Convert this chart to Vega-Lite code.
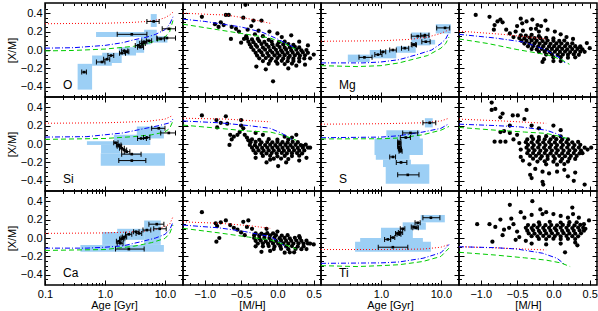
{
"$schema": "https://vega.github.io/schema/vega-lite/v6.json",
"padding": {"left": 5, "top": 1, "right": 2, "bottom": 0},
"spacing": 0,
"columns": 4,
"bounds": "flush",
"config": {
  "view": {"stroke": "black", "strokeWidth": 1.5},
  "axis": {"labelFont": "Liberation Sans", "titleFont": "Liberation Sans", "labelFontSize": 11, "titleFontSize": 11, "titleFontWeight": "normal", "labelColor": "black", "titleColor": "black", "tickColor": "black", "tickWidth": 1, "tickSize": -5, "labelPadding": 8, "domain": false, "grid": false, "labelFlush": false, "labelOverlap": false},
  "axisX": {"titlePadding": 0},
  "axisY": {"titlePadding": 3}
},
"datasets": {
"age": [
{"e":"O","k":"b","a1":0.71,"a2":5.0,"y1":0.14,"y2":0.195},
{"e":"O","k":"b","a1":5.8,"a2":7.3,"y1":0.25,"y2":0.39},
{"e":"O","k":"b","a1":0.35,"a2":0.61,"y1":-0.43,"y2":-0.15},
{"e":"O","k":"b","a1":0.61,"a2":1.3,"y1":-0.17,"y2":-0.06},
{"e":"O","k":"b","a1":0.9,"a2":1.9,"y1":-0.14,"y2":-0.03},
{"e":"O","k":"b","a1":1.7,"a2":3.3,"y1":-0.06,"y2":0.03},
{"e":"O","k":"b","a1":3.3,"a2":4.5,"y1":-0.03,"y2":0.11},
{"e":"O","k":"b","a1":4.0,"a2":5.8,"y1":0.06,"y2":0.16},
{"e":"O","k":"b","a1":4.5,"a2":7.3,"y1":0.09,"y2":0.22},
{"e":"O","k":"b","a1":5.8,"a2":11,"y1":0.08,"y2":0.15},
{"e":"Mg","k":"b","a1":0.28,"a2":0.65,"y1":-0.13,"y2":-0.05},
{"e":"Mg","k":"b","a1":0.65,"a2":1.8,"y1":-0.09,"y2":0.0},
{"e":"Mg","k":"b","a1":1.8,"a2":3.8,"y1":-0.03,"y2":0.04},
{"e":"Mg","k":"b","a1":3.2,"a2":6.6,"y1":0.05,"y2":0.19},
{"e":"Mg","k":"b","a1":4.5,"a2":8.0,"y1":0.06,"y2":0.11},
{"e":"Mg","k":"b","a1":8.2,"a2":14.6,"y1":0.18,"y2":0.28},
{"e":"Si","k":"b","a1":0.5,"a2":1.41,"y1":-0.01,"y2":0.03},
{"e":"Si","k":"b","a1":0.86,"a2":1.8,"y1":-0.1,"y2":-0.01},
{"e":"Si","k":"b","a1":0.85,"a2":10,"y1":-0.235,"y2":-0.1},
{"e":"Si","k":"b","a1":1.41,"a2":5.7,"y1":-0.01,"y2":0.1},
{"e":"Si","k":"b","a1":3.4,"a2":9.6,"y1":0.06,"y2":0.19},
{"e":"S","k":"b","a1":5.4,"a2":7.3,"y1":0.18,"y2":0.28},
{"e":"S","k":"b","a1":1.23,"a2":4.43,"y1":0.043,"y2":0.15},
{"e":"S","k":"b","a1":0.78,"a2":5.0,"y1":-0.12,"y2":0.06},
{"e":"S","k":"b","a1":0.82,"a2":3.0,"y1":-0.17,"y2":-0.12},
{"e":"S","k":"b","a1":1.08,"a2":3.16,"y1":-0.25,"y2":-0.17},
{"e":"S","k":"b","a1":1.2,"a2":6.4,"y1":-0.43,"y2":-0.22},
{"e":"Ca","k":"b","a1":0.39,"a2":9.6,"y1":-0.15,"y2":-0.075},
{"e":"Ca","k":"b","a1":0.9,"a2":2.2,"y1":-0.075,"y2":0.065},
{"e":"Ca","k":"b","a1":1.6,"a2":4.5,"y1":-0.02,"y2":0.1},
{"e":"Ca","k":"b","a1":4.5,"a2":8.5,"y1":-0.075,"y2":0.19},
{"e":"Ti","k":"b","a1":0.37,"a2":6.8,"y1":-0.15,"y2":-0.04},
{"e":"Ti","k":"b","a1":0.45,"a2":5.0,"y1":-0.08,"y2":0.0},
{"e":"Ti","k":"b","a1":1.0,"a2":3.4,"y1":0.0,"y2":0.11},
{"e":"Ti","k":"b","a1":2.3,"a2":5.6,"y1":0.09,"y2":0.17},
{"e":"Ti","k":"b","a1":4.6,"a2":11.6,"y1":0.17,"y2":0.25},
{"e":"O","k":"p","a":0.45,"lo":0.41,"hi":0.49,"v":-0.24},
{"e":"O","k":"p","a":0.89,"lo":0.72,"hi":1.0,"v":-0.13},
{"e":"O","k":"p","a":1.08,"lo":0.95,"hi":1.2,"v":-0.1},
{"e":"O","k":"p","a":1.26,"lo":1.12,"hi":1.4,"v":-0.06},
{"e":"O","k":"p","a":1.9,"lo":1.75,"hi":2.2,"v":-0.035},
{"e":"O","k":"p","a":2.1,"lo":1.9,"hi":2.4,"v":-0.01},
{"e":"O","k":"p","a":2.3,"lo":2.1,"hi":2.5,"v":-0.02},
{"e":"O","k":"p","a":3.6,"lo":3.2,"hi":4.2,"v":0.05},
{"e":"O","k":"p","a":3.9,"lo":3.5,"hi":4.4,"v":0.03},
{"e":"O","k":"p","a":4.2,"lo":3.8,"hi":4.7,"v":0.07},
{"e":"O","k":"p","a":4.5,"lo":4.1,"hi":5.0,"v":0.09},
{"e":"O","k":"p","a":5.4,"lo":4.9,"hi":6.0,"v":0.1},
{"e":"O","k":"p","a":2.8,"lo":1.6,"hi":5.0,"v":0.17},
{"e":"O","k":"p","a":6.5,"lo":5.0,"hi":8.0,"v":0.31},
{"e":"O","k":"p","a":8.5,"lo":7.5,"hi":9.8,"v":0.12},
{"e":"O","k":"p","a":10.8,"lo":7.3,"hi":15,"v":0.13},
{"e":"O","k":"p","a":11.6,"lo":9,"hi":15,"v":0.23},
{"e":"Mg","k":"p","a":0.53,"lo":0.43,"hi":0.71,"v":-0.08},
{"e":"Mg","k":"p","a":0.89,"lo":0.79,"hi":1.04,"v":-0.05},
{"e":"Mg","k":"p","a":1.08,"lo":0.98,"hi":1.2,"v":-0.02},
{"e":"Mg","k":"p","a":1.58,"lo":1.4,"hi":1.8,"v":0.0},
{"e":"Mg","k":"p","a":2.5,"lo":2.2,"hi":2.9,"v":0.02},
{"e":"Mg","k":"p","a":3.5,"lo":3.2,"hi":3.8,"v":0.06},
{"e":"Mg","k":"p","a":3.6,"lo":3.3,"hi":3.9,"v":0.055},
{"e":"Mg","k":"p","a":4.1,"lo":3.2,"hi":5.4,"v":0.15},
{"e":"Mg","k":"p","a":5.4,"lo":4.6,"hi":6.3,"v":0.16},
{"e":"Mg","k":"p","a":5.6,"lo":4.8,"hi":6.6,"v":0.09},
{"e":"Mg","k":"p","a":11.7,"lo":8.5,"hi":14,"v":0.24},
{"e":"Si","k":"p","a":2.8,"lo":1.7,"hi":4.8,"v":-0.18},
{"e":"Si","k":"p","a":2.8,"lo":1.9,"hi":4.0,"v":-0.11},
{"e":"Si","k":"p","a":2.3,"lo":2.1,"hi":2.6,"v":-0.083},
{"e":"Si","k":"p","a":2.1,"lo":1.9,"hi":2.3,"v":-0.065},
{"e":"Si","k":"p","a":1.9,"lo":1.75,"hi":2.1,"v":-0.047},
{"e":"Si","k":"p","a":1.75,"lo":1.6,"hi":1.9,"v":-0.025},
{"e":"Si","k":"p","a":1.7,"lo":1.55,"hi":1.85,"v":-0.01},
{"e":"Si","k":"p","a":1.5,"lo":1.4,"hi":1.65,"v":0.014},
{"e":"Si","k":"p","a":4.0,"lo":3.5,"hi":4.9,"v":0.06},
{"e":"Si","k":"p","a":5.0,"lo":4.4,"hi":5.6,"v":0.07},
{"e":"Si","k":"p","a":7.9,"lo":6.0,"hi":10,"v":0.17},
{"e":"Si","k":"p","a":11.6,"lo":8.5,"hi":15,"v":0.12},
{"e":"S","k":"p","a":6.5,"lo":5.0,"hi":8.2,"v":0.23},
{"e":"S","k":"p","a":3.1,"lo":2.3,"hi":4.1,"v":0.12},
{"e":"S","k":"p","a":2.6,"lo":2.1,"hi":3.1,"v":0.07},
{"e":"S","k":"p","a":2.0,"lo":1.9,"hi":2.15,"v":0.025},
{"e":"S","k":"p","a":2.0,"lo":1.9,"hi":2.15,"v":0.0},
{"e":"S","k":"p","a":2.0,"lo":1.9,"hi":2.15,"v":-0.03},
{"e":"S","k":"p","a":2.05,"lo":1.95,"hi":2.2,"v":-0.055},
{"e":"S","k":"p","a":2.1,"lo":2.0,"hi":2.25,"v":-0.08},
{"e":"S","k":"p","a":1.58,"lo":1.4,"hi":1.75,"v":-0.14},
{"e":"S","k":"p","a":2.16,"lo":1.8,"hi":2.7,"v":-0.2},
{"e":"S","k":"p","a":2.8,"lo":1.9,"hi":4.3,"v":-0.335},
{"e":"Ca","k":"p","a":2.5,"lo":1.5,"hi":4.5,"v":-0.12},
{"e":"Ca","k":"p","a":1.8,"lo":1.6,"hi":2.0,"v":-0.057},
{"e":"Ca","k":"p","a":1.7,"lo":1.55,"hi":1.85,"v":-0.035},
{"e":"Ca","k":"p","a":1.9,"lo":1.75,"hi":2.05,"v":-0.01},
{"e":"Ca","k":"p","a":2.0,"lo":1.85,"hi":2.15,"v":0.0},
{"e":"Ca","k":"p","a":2.1,"lo":1.95,"hi":2.3,"v":0.01},
{"e":"Ca","k":"p","a":2.5,"lo":2.2,"hi":2.8,"v":0.04},
{"e":"Ca","k":"p","a":3.3,"lo":3.0,"hi":3.7,"v":0.068},
{"e":"Ca","k":"p","a":3.7,"lo":3.3,"hi":4.1,"v":0.05},
{"e":"Ca","k":"p","a":5.0,"lo":4.3,"hi":5.8,"v":0.086},
{"e":"Ca","k":"p","a":7.3,"lo":5.4,"hi":9.6,"v":0.15},
{"e":"Ca","k":"p","a":8.2,"lo":6.5,"hi":10.5,"v":0.1},
{"e":"Ti","k":"p","a":1.58,"lo":0.9,"hi":2.8,"v":-0.1},
{"e":"Ti","k":"p","a":1.3,"lo":1.15,"hi":1.45,"v":-0.015},
{"e":"Ti","k":"p","a":1.58,"lo":1.45,"hi":1.7,"v":0.005},
{"e":"Ti","k":"p","a":1.9,"lo":1.75,"hi":2.05,"v":0.05},
{"e":"Ti","k":"p","a":2.0,"lo":1.85,"hi":2.15,"v":0.04},
{"e":"Ti","k":"p","a":2.1,"lo":1.95,"hi":2.3,"v":0.06},
{"e":"Ti","k":"p","a":2.3,"lo":2.1,"hi":2.5,"v":0.1},
{"e":"Ti","k":"p","a":3.6,"lo":3.2,"hi":4.0,"v":0.12},
{"e":"Ti","k":"p","a":3.8,"lo":3.4,"hi":4.2,"v":0.11},
{"e":"Ti","k":"p","a":4.1,"lo":3.7,"hi":4.5,"v":0.165},
{"e":"Ti","k":"p","a":6.8,"lo":5.0,"hi":9.6,"v":0.22},
{"e":"O","k":"m","mod":"r","a":0.1,"v":0.285},{"e":"O","k":"m","mod":"r","a":0.3,"v":0.288},{"e":"O","k":"m","mod":"r","a":1,"v":0.29},{"e":"O","k":"m","mod":"r","a":3,"v":0.3},{"e":"O","k":"m","mod":"r","a":5,"v":0.31},{"e":"O","k":"m","mod":"r","a":8,"v":0.33},{"e":"O","k":"m","mod":"r","a":10,"v":0.35},{"e":"O","k":"m","mod":"r","a":12,"v":0.38},{"e":"O","k":"m","mod":"r","a":13.6,"v":0.41},
{"e":"O","k":"m","mod":"b","a":0.1,"v":0.02},{"e":"O","k":"m","mod":"b","a":0.3,"v":0.025},{"e":"O","k":"m","mod":"b","a":1,"v":0.05},{"e":"O","k":"m","mod":"b","a":2,"v":0.08},{"e":"O","k":"m","mod":"b","a":3,"v":0.11},{"e":"O","k":"m","mod":"b","a":5,"v":0.14},{"e":"O","k":"m","mod":"b","a":7,"v":0.17},{"e":"O","k":"m","mod":"b","a":10,"v":0.22},{"e":"O","k":"m","mod":"b","a":12,"v":0.28},{"e":"O","k":"m","mod":"b","a":13.6,"v":0.36},
{"e":"O","k":"m","mod":"g","a":0.1,"v":-0.01},{"e":"O","k":"m","mod":"g","a":0.3,"v":-0.005},{"e":"O","k":"m","mod":"g","a":1,"v":0.01},{"e":"O","k":"m","mod":"g","a":3,"v":0.04},{"e":"O","k":"m","mod":"g","a":5,"v":0.07},{"e":"O","k":"m","mod":"g","a":8,"v":0.11},{"e":"O","k":"m","mod":"g","a":10,"v":0.14},{"e":"O","k":"m","mod":"g","a":12,"v":0.2},{"e":"O","k":"m","mod":"g","a":13.6,"v":0.32},
{"e":"Mg","k":"m","mod":"r","a":0.1,"v":0.095},{"e":"Mg","k":"m","mod":"r","a":1,"v":0.1},{"e":"Mg","k":"m","mod":"r","a":3,"v":0.115},{"e":"Mg","k":"m","mod":"r","a":6,"v":0.14},{"e":"Mg","k":"m","mod":"r","a":10,"v":0.18},{"e":"Mg","k":"m","mod":"r","a":13.6,"v":0.22},
{"e":"Mg","k":"m","mod":"b","a":0.1,"v":-0.14},{"e":"Mg","k":"m","mod":"b","a":0.5,"v":-0.14},{"e":"Mg","k":"m","mod":"b","a":1,"v":-0.13},{"e":"Mg","k":"m","mod":"b","a":2,"v":-0.105},{"e":"Mg","k":"m","mod":"b","a":4,"v":-0.05},{"e":"Mg","k":"m","mod":"b","a":7,"v":0.0},{"e":"Mg","k":"m","mod":"b","a":10,"v":0.07},{"e":"Mg","k":"m","mod":"b","a":12,"v":0.12},{"e":"Mg","k":"m","mod":"b","a":13.6,"v":0.19},
{"e":"Mg","k":"m","mod":"g","a":0.1,"v":-0.17},{"e":"Mg","k":"m","mod":"g","a":0.4,"v":-0.18},{"e":"Mg","k":"m","mod":"g","a":1,"v":-0.17},{"e":"Mg","k":"m","mod":"g","a":2,"v":-0.14},{"e":"Mg","k":"m","mod":"g","a":4,"v":-0.09},{"e":"Mg","k":"m","mod":"g","a":6,"v":-0.06},{"e":"Mg","k":"m","mod":"g","a":10,"v":0.02},{"e":"Mg","k":"m","mod":"g","a":12,"v":0.07},{"e":"Mg","k":"m","mod":"g","a":13.6,"v":0.14},
{"e":"Si","k":"m","mod":"r","a":0.1,"v":0.225},{"e":"Si","k":"m","mod":"r","a":1,"v":0.23},{"e":"Si","k":"m","mod":"r","a":5,"v":0.245},{"e":"Si","k":"m","mod":"r","a":10,"v":0.27},{"e":"Si","k":"m","mod":"r","a":13.6,"v":0.31},
{"e":"Si","k":"m","mod":"b","a":0.1,"v":0.075},{"e":"Si","k":"m","mod":"b","a":0.5,"v":0.08},{"e":"Si","k":"m","mod":"b","a":1,"v":0.1},{"e":"Si","k":"m","mod":"b","a":2,"v":0.12},{"e":"Si","k":"m","mod":"b","a":4,"v":0.16},{"e":"Si","k":"m","mod":"b","a":8,"v":0.2},{"e":"Si","k":"m","mod":"b","a":12,"v":0.23},{"e":"Si","k":"m","mod":"b","a":13.6,"v":0.27},
{"e":"Si","k":"m","mod":"g","a":0.1,"v":0.05},{"e":"Si","k":"m","mod":"g","a":1,"v":0.06},{"e":"Si","k":"m","mod":"g","a":3,"v":0.08},{"e":"Si","k":"m","mod":"g","a":6,"v":0.1},{"e":"Si","k":"m","mod":"g","a":10,"v":0.13},{"e":"Si","k":"m","mod":"g","a":12,"v":0.17},{"e":"Si","k":"m","mod":"g","a":13.6,"v":0.25},
{"e":"S","k":"m","mod":"r","a":0.1,"v":0.215},{"e":"S","k":"m","mod":"r","a":1,"v":0.22},{"e":"S","k":"m","mod":"r","a":5,"v":0.23},{"e":"S","k":"m","mod":"r","a":10,"v":0.25},{"e":"S","k":"m","mod":"r","a":13.6,"v":0.28},
{"e":"S","k":"m","mod":"b","a":0.1,"v":0.068},{"e":"S","k":"m","mod":"b","a":1,"v":0.075},{"e":"S","k":"m","mod":"b","a":2,"v":0.09},{"e":"S","k":"m","mod":"b","a":5,"v":0.13},{"e":"S","k":"m","mod":"b","a":10,"v":0.17},{"e":"S","k":"m","mod":"b","a":13.6,"v":0.22},
{"e":"S","k":"m","mod":"g","a":0.1,"v":0.055},{"e":"S","k":"m","mod":"g","a":1,"v":0.057},{"e":"S","k":"m","mod":"g","a":2,"v":0.065},{"e":"S","k":"m","mod":"g","a":5,"v":0.1},{"e":"S","k":"m","mod":"g","a":10,"v":0.15},{"e":"S","k":"m","mod":"g","a":13.6,"v":0.19},
{"e":"Ca","k":"m","mod":"r","a":0.1,"v":0.05},{"e":"Ca","k":"m","mod":"r","a":1,"v":0.055},{"e":"Ca","k":"m","mod":"r","a":4,"v":0.07},{"e":"Ca","k":"m","mod":"r","a":8,"v":0.1},{"e":"Ca","k":"m","mod":"r","a":12,"v":0.15},{"e":"Ca","k":"m","mod":"r","a":13.6,"v":0.23},
{"e":"Ca","k":"m","mod":"b","a":0.1,"v":-0.11},{"e":"Ca","k":"m","mod":"b","a":0.5,"v":-0.11},{"e":"Ca","k":"m","mod":"b","a":1,"v":-0.1},{"e":"Ca","k":"m","mod":"b","a":2,"v":-0.085},{"e":"Ca","k":"m","mod":"b","a":4,"v":-0.04},{"e":"Ca","k":"m","mod":"b","a":7,"v":0.0},{"e":"Ca","k":"m","mod":"b","a":10,"v":0.04},{"e":"Ca","k":"m","mod":"b","a":12,"v":0.09},{"e":"Ca","k":"m","mod":"b","a":13.6,"v":0.17},
{"e":"Ca","k":"m","mod":"g","a":0.1,"v":-0.135},{"e":"Ca","k":"m","mod":"g","a":1,"v":-0.125},{"e":"Ca","k":"m","mod":"g","a":3,"v":-0.09},{"e":"Ca","k":"m","mod":"g","a":6,"v":-0.05},{"e":"Ca","k":"m","mod":"g","a":10,"v":-0.005},{"e":"Ca","k":"m","mod":"g","a":12,"v":0.05},{"e":"Ca","k":"m","mod":"g","a":13.6,"v":0.14},
{"e":"Ti","k":"m","mod":"r","a":0.1,"v":-0.125},{"e":"Ti","k":"m","mod":"r","a":1,"v":-0.125},{"e":"Ti","k":"m","mod":"r","a":5,"v":-0.12},{"e":"Ti","k":"m","mod":"r","a":10,"v":-0.1},{"e":"Ti","k":"m","mod":"r","a":13.6,"v":-0.07},
{"e":"Ti","k":"m","mod":"b","a":0.1,"v":-0.275},{"e":"Ti","k":"m","mod":"b","a":1,"v":-0.27},{"e":"Ti","k":"m","mod":"b","a":2,"v":-0.26},{"e":"Ti","k":"m","mod":"b","a":5,"v":-0.22},{"e":"Ti","k":"m","mod":"b","a":10,"v":-0.16},{"e":"Ti","k":"m","mod":"b","a":13.6,"v":-0.07},
{"e":"Ti","k":"m","mod":"g","a":0.1,"v":-0.3},{"e":"Ti","k":"m","mod":"g","a":0.4,"v":-0.31},{"e":"Ti","k":"m","mod":"g","a":1,"v":-0.3},{"e":"Ti","k":"m","mod":"g","a":2,"v":-0.29},{"e":"Ti","k":"m","mod":"g","a":5,"v":-0.255},{"e":"Ti","k":"m","mod":"g","a":10,"v":-0.2},{"e":"Ti","k":"m","mod":"g","a":13.6,"v":-0.11}
],
"mh": [
{"e":"O","k":"m","mod":"r","m":-1.3,"v":0.4},{"e":"O","k":"m","mod":"r","m":-0.9,"v":0.385},{"e":"O","k":"m","mod":"r","m":-0.7,"v":0.38},{"e":"O","k":"m","mod":"r","m":-0.4,"v":0.34},{"e":"O","k":"m","mod":"r","m":-0.1,"v":0.29},
{"e":"O","k":"m","mod":"b","m":-1.3,"v":0.335},{"e":"O","k":"m","mod":"b","m":-1.0,"v":0.31},{"e":"O","k":"m","mod":"b","m":-0.5,"v":0.25},{"e":"O","k":"m","mod":"b","m":-0.2,"v":0.19},{"e":"O","k":"m","mod":"b","m":0.0,"v":0.12},{"e":"O","k":"m","mod":"b","m":0.2,"v":0.04},{"e":"O","k":"m","mod":"b","m":0.25,"v":0.02},
{"e":"O","k":"m","mod":"g","m":-1.3,"v":0.28},{"e":"O","k":"m","mod":"g","m":-0.9,"v":0.23},{"e":"O","k":"m","mod":"g","m":-0.5,"v":0.18},{"e":"O","k":"m","mod":"g","m":-0.1,"v":0.13},{"e":"O","k":"m","mod":"g","m":0.1,"v":0.07},{"e":"O","k":"m","mod":"g","m":0.25,"v":0.01},
{"e":"Mg","k":"m","mod":"r","m":-1.3,"v":0.205},{"e":"Mg","k":"m","mod":"r","m":-0.7,"v":0.17},{"e":"Mg","k":"m","mod":"r","m":-0.1,"v":0.12},
{"e":"Mg","k":"m","mod":"b","m":-1.3,"v":0.17},{"e":"Mg","k":"m","mod":"b","m":-0.8,"v":0.13},{"e":"Mg","k":"m","mod":"b","m":-0.4,"v":0.085},{"e":"Mg","k":"m","mod":"b","m":-0.1,"v":0.0},{"e":"Mg","k":"m","mod":"b","m":0.1,"v":-0.09},{"e":"Mg","k":"m","mod":"b","m":0.16,"v":-0.14},
{"e":"Mg","k":"m","mod":"g","m":-1.3,"v":0.12},{"e":"Mg","k":"m","mod":"g","m":-0.9,"v":0.07},{"e":"Mg","k":"m","mod":"g","m":-0.5,"v":0.005},{"e":"Mg","k":"m","mod":"g","m":-0.1,"v":-0.05},{"e":"Mg","k":"m","mod":"g","m":0.1,"v":-0.1},{"e":"Mg","k":"m","mod":"g","m":0.22,"v":-0.155},
{"e":"Si","k":"m","mod":"r","m":-1.3,"v":0.28},{"e":"Si","k":"m","mod":"r","m":-0.7,"v":0.27},{"e":"Si","k":"m","mod":"r","m":-0.1,"v":0.24},
{"e":"Si","k":"m","mod":"b","m":-1.3,"v":0.25},{"e":"Si","k":"m","mod":"b","m":-0.8,"v":0.23},{"e":"Si","k":"m","mod":"b","m":-0.4,"v":0.2},{"e":"Si","k":"m","mod":"b","m":-0.1,"v":0.17},{"e":"Si","k":"m","mod":"b","m":0.05,"v":0.12},{"e":"Si","k":"m","mod":"b","m":0.2,"v":0.05},
{"e":"Si","k":"m","mod":"g","m":-1.3,"v":0.205},{"e":"Si","k":"m","mod":"g","m":-0.8,"v":0.17},{"e":"Si","k":"m","mod":"g","m":-0.4,"v":0.14},{"e":"Si","k":"m","mod":"g","m":-0.1,"v":0.13},{"e":"Si","k":"m","mod":"g","m":0.1,"v":0.09},{"e":"Si","k":"m","mod":"g","m":0.26,"v":0.04},
{"e":"S","k":"m","mod":"r","m":-1.3,"v":0.27},{"e":"S","k":"m","mod":"r","m":-0.7,"v":0.25},{"e":"S","k":"m","mod":"r","m":-0.1,"v":0.225},
{"e":"S","k":"m","mod":"b","m":-1.3,"v":0.215},{"e":"S","k":"m","mod":"b","m":-0.8,"v":0.2},{"e":"S","k":"m","mod":"b","m":-0.45,"v":0.185},{"e":"S","k":"m","mod":"b","m":-0.1,"v":0.15},{"e":"S","k":"m","mod":"b","m":0.05,"v":0.11},{"e":"S","k":"m","mod":"b","m":0.16,"v":0.06},
{"e":"S","k":"m","mod":"g","m":-1.3,"v":0.18},{"e":"S","k":"m","mod":"g","m":-0.8,"v":0.15},{"e":"S","k":"m","mod":"g","m":-0.4,"v":0.13},{"e":"S","k":"m","mod":"g","m":-0.1,"v":0.115},{"e":"S","k":"m","mod":"g","m":0.1,"v":0.08},{"e":"S","k":"m","mod":"g","m":0.23,"v":0.05},
{"e":"Ca","k":"m","mod":"r","m":-1.3,"v":0.175},{"e":"Ca","k":"m","mod":"r","m":-0.8,"v":0.16},{"e":"Ca","k":"m","mod":"r","m":-0.4,"v":0.135},{"e":"Ca","k":"m","mod":"r","m":-0.1,"v":0.105},
{"e":"Ca","k":"m","mod":"b","m":-1.3,"v":0.14},{"e":"Ca","k":"m","mod":"b","m":-0.8,"v":0.11},{"e":"Ca","k":"m","mod":"b","m":-0.45,"v":0.07},{"e":"Ca","k":"m","mod":"b","m":-0.1,"v":0.015},{"e":"Ca","k":"m","mod":"b","m":0.05,"v":-0.05},{"e":"Ca","k":"m","mod":"b","m":0.12,"v":-0.11},
{"e":"Ca","k":"m","mod":"g","m":-1.3,"v":0.105},{"e":"Ca","k":"m","mod":"g","m":-0.8,"v":0.055},{"e":"Ca","k":"m","mod":"g","m":-0.4,"v":0.01},{"e":"Ca","k":"m","mod":"g","m":-0.1,"v":-0.02},{"e":"Ca","k":"m","mod":"g","m":0.1,"v":-0.07},{"e":"Ca","k":"m","mod":"g","m":0.26,"v":-0.12},
{"e":"Ti","k":"m","mod":"r","m":-1.3,"v":-0.094},{"e":"Ti","k":"m","mod":"r","m":-0.7,"v":-0.11},{"e":"Ti","k":"m","mod":"r","m":-0.1,"v":-0.13},
{"e":"Ti","k":"m","mod":"b","m":-1.3,"v":-0.095},{"e":"Ti","k":"m","mod":"b","m":-0.8,"v":-0.105},{"e":"Ti","k":"m","mod":"b","m":-0.5,"v":-0.12},{"e":"Ti","k":"m","mod":"b","m":-0.15,"v":-0.165},{"e":"Ti","k":"m","mod":"b","m":0.05,"v":-0.22},{"e":"Ti","k":"m","mod":"b","m":0.16,"v":-0.29},
{"e":"Ti","k":"m","mod":"g","m":-1.3,"v":-0.155},{"e":"Ti","k":"m","mod":"g","m":-0.8,"v":-0.185},{"e":"Ti","k":"m","mod":"g","m":-0.4,"v":-0.215},{"e":"Ti","k":"m","mod":"g","m":-0.1,"v":-0.24},{"e":"Ti","k":"m","mod":"g","m":0.1,"v":-0.27},{"e":"Ti","k":"m","mod":"g","m":0.23,"v":-0.31},
{"e":"O","k":"s","m":-1.04,"v":0.36},{"e":"O","k":"s","m":-0.78,"v":0.3},{"e":"O","k":"s","m":-0.71,"v":0.38},{"e":"O","k":"s","m":-0.67,"v":0.38},{"e":"O","k":"s","m":-0.47,"v":0.35},{"e":"O","k":"s","m":-0.44,"v":0.49},{"e":"O","k":"s","m":-0.33,"v":0.32},{"e":"O","k":"s","m":-0.22,"v":0.32},{"e":"O","k":"s","m":-0.86,"v":0.28},{"e":"O","k":"s","m":-0.81,"v":0.25},{"e":"O","k":"s","m":-0.74,"v":0.27},{"e":"O","k":"s","m":-0.63,"v":0.25},{"e":"O","k":"s","m":-0.57,"v":0.23},{"e":"O","k":"s","m":-0.64,"v":0.12},{"e":"O","k":"s","m":0.0,"v":0.18},{"e":"O","k":"s","m":0.19,"v":0.16},{"e":"O","k":"s","m":-0.06,"v":-0.34},{"e":"O","k":"s","m":-0.29,"v":-0.18},{"e":"O","k":"s","m":0.15,"v":-0.2},{"e":"O","k":"s","m":0.45,"v":-0.09},{"e":"O","k":"s","m":-0.53,"v":0.2},{"e":"O","k":"s","m":-0.41,"v":0.22},{"e":"O","k":"s","m":-0.36,"v":0.26},{"e":"O","k":"s","m":-0.26,"v":0.21},{"e":"O","k":"s","m":-0.11,"v":0.2},{"e":"O","k":"s","m":0.06,"v":0.14},{"e":"O","k":"s","m":-0.31,"v":0.17},{"e":"O","k":"s","m":-0.46,"v":0.12},{"e":"O","k":"s","m":0.5,"v":-0.05},{"e":"O","k":"s","m":0.38,"v":-0.16},{"e":"O","k":"s","m":-0.16,"v":-0.21},{"e":"O","k":"s","m":0.26,"v":-0.17},{"e":"O","k":"s","m":-0.5,"v":0.08},{"e":"O","k":"s","m":-0.43,"v":0.15},{"e":"O","k":"s","m":-0.2,"v":0.15},{"e":"O","k":"s","m":0.3,"v":0.09},{"e":"O","k":"s","m":0.42,"v":0.05},
{"e":"O","k":"s","m":-0.42,"v":0.125},{"e":"O","k":"s","m":-0.35,"v":0.115},{"e":"O","k":"s","m":-0.27,"v":0.12},{"e":"O","k":"s","m":-0.12,"v":0.11},
{"e":"O","k":"s","m":-0.4,"v":0.09},{"e":"O","k":"s","m":-0.33,"v":0.085},{"e":"O","k":"s","m":-0.25,"v":0.095},{"e":"O","k":"s","m":-0.18,"v":0.088},{"e":"O","k":"s","m":-0.08,"v":0.092},{"e":"O","k":"s","m":0.02,"v":0.085},{"e":"O","k":"s","m":0.1,"v":0.09},
{"e":"O","k":"s","m":-0.38,"v":0.06},{"e":"O","k":"s","m":-0.3,"v":0.055},{"e":"O","k":"s","m":-0.22,"v":0.065},{"e":"O","k":"s","m":-0.15,"v":0.058},{"e":"O","k":"s","m":-0.07,"v":0.062},{"e":"O","k":"s","m":0.0,"v":0.055},{"e":"O","k":"s","m":0.08,"v":0.06},{"e":"O","k":"s","m":0.15,"v":0.065},{"e":"O","k":"s","m":0.22,"v":0.055},
{"e":"O","k":"s","m":-0.36,"v":0.03},{"e":"O","k":"s","m":-0.28,"v":0.035},{"e":"O","k":"s","m":-0.2,"v":0.027},{"e":"O","k":"s","m":-0.12,"v":0.033},{"e":"O","k":"s","m":-0.05,"v":0.028},{"e":"O","k":"s","m":0.03,"v":0.032},{"e":"O","k":"s","m":0.1,"v":0.025},{"e":"O","k":"s","m":0.17,"v":0.03},{"e":"O","k":"s","m":0.24,"v":0.035},{"e":"O","k":"s","m":0.3,"v":0.028},
{"e":"O","k":"s","m":-0.33,"v":0.0},{"e":"O","k":"s","m":-0.25,"v":-0.005},{"e":"O","k":"s","m":-0.17,"v":0.004},{"e":"O","k":"s","m":-0.1,"v":-0.003},{"e":"O","k":"s","m":-0.02,"v":0.002},{"e":"O","k":"s","m":0.05,"v":-0.004},{"e":"O","k":"s","m":0.12,"v":0.003},{"e":"O","k":"s","m":0.19,"v":-0.002},{"e":"O","k":"s","m":0.26,"v":0.004},{"e":"O","k":"s","m":0.33,"v":-0.003},{"e":"O","k":"s","m":0.4,"v":0.0},
{"e":"O","k":"s","m":-0.3,"v":-0.03},{"e":"O","k":"s","m":-0.22,"v":-0.027},{"e":"O","k":"s","m":-0.14,"v":-0.033},{"e":"O","k":"s","m":-0.07,"v":-0.028},{"e":"O","k":"s","m":0.0,"v":-0.032},{"e":"O","k":"s","m":0.07,"v":-0.026},{"e":"O","k":"s","m":0.14,"v":-0.031},{"e":"O","k":"s","m":0.21,"v":-0.029},{"e":"O","k":"s","m":0.28,"v":-0.034},{"e":"O","k":"s","m":0.35,"v":-0.027},{"e":"O","k":"s","m":0.42,"v":-0.03},
{"e":"O","k":"s","m":-0.28,"v":-0.06},{"e":"O","k":"s","m":-0.2,"v":-0.057},{"e":"O","k":"s","m":-0.12,"v":-0.063},{"e":"O","k":"s","m":-0.04,"v":-0.058},{"e":"O","k":"s","m":0.03,"v":-0.061},{"e":"O","k":"s","m":0.1,"v":-0.056},{"e":"O","k":"s","m":0.17,"v":-0.064},{"e":"O","k":"s","m":0.24,"v":-0.059},{"e":"O","k":"s","m":0.31,"v":-0.062},{"e":"O","k":"s","m":0.38,"v":-0.057},
{"e":"O","k":"s","m":-0.25,"v":-0.09},{"e":"O","k":"s","m":-0.16,"v":-0.087},{"e":"O","k":"s","m":-0.08,"v":-0.093},{"e":"O","k":"s","m":0.0,"v":-0.088},{"e":"O","k":"s","m":0.08,"v":-0.091},{"e":"O","k":"s","m":0.15,"v":-0.086},{"e":"O","k":"s","m":0.22,"v":-0.094},{"e":"O","k":"s","m":0.3,"v":-0.089},{"e":"O","k":"s","m":0.37,"v":-0.092},
{"e":"O","k":"s","m":-0.2,"v":-0.12},{"e":"O","k":"s","m":-0.1,"v":-0.118},{"e":"O","k":"s","m":-0.02,"v":-0.123},{"e":"O","k":"s","m":0.06,"v":-0.117},{"e":"O","k":"s","m":0.14,"v":-0.122},{"e":"O","k":"s","m":0.22,"v":-0.119},{"e":"O","k":"s","m":0.3,"v":-0.124},
{"e":"O","k":"s","m":-0.12,"v":-0.15},{"e":"O","k":"s","m":0.0,"v":-0.148},{"e":"O","k":"s","m":0.1,"v":-0.153},{"e":"O","k":"s","m":0.2,"v":-0.147},
{"e":"Mg","k":"s","m":-1.07,"v":0.38},{"e":"Mg","k":"s","m":-0.88,"v":0.36},{"e":"Mg","k":"s","m":-0.81,"v":0.27},{"e":"Mg","k":"s","m":-0.77,"v":0.31},{"e":"Mg","k":"s","m":-0.73,"v":0.33},{"e":"Mg","k":"s","m":-0.7,"v":0.3},{"e":"Mg","k":"s","m":-0.82,"v":0.22},{"e":"Mg","k":"s","m":-0.45,"v":0.34},{"e":"Mg","k":"s","m":-0.5,"v":0.26},{"e":"Mg","k":"s","m":-0.43,"v":0.29},{"e":"Mg","k":"s","m":-0.37,"v":0.31},{"e":"Mg","k":"s","m":-0.29,"v":0.33},{"e":"Mg","k":"s","m":-0.22,"v":0.27},{"e":"Mg","k":"s","m":-0.17,"v":0.26},{"e":"Mg","k":"s","m":-0.11,"v":0.32},{"e":"Mg","k":"s","m":-0.31,"v":0.23},{"e":"Mg","k":"s","m":-0.24,"v":0.23},{"e":"Mg","k":"s","m":-0.2,"v":0.2},{"e":"Mg","k":"s","m":-0.42,"v":0.21},{"e":"Mg","k":"s","m":-0.08,"v":0.22},{"e":"Mg","k":"s","m":0.02,"v":0.2},{"e":"Mg","k":"s","m":0.1,"v":0.17},{"e":"Mg","k":"s","m":0.43,"v":-0.02},{"e":"Mg","k":"s","m":0.46,"v":0.075},{"e":"Mg","k":"s","m":0.37,"v":0.03},{"e":"Mg","k":"s","m":-0.15,"v":-0.13},{"e":"Mg","k":"s","m":-0.13,"v":-0.1},{"e":"Mg","k":"s","m":0.0,"v":-0.12},{"e":"Mg","k":"s","m":0.1,"v":-0.12},{"e":"Mg","k":"s","m":-0.55,"v":0.14},{"e":"Mg","k":"s","m":-0.6,"v":0.18},{"e":"Mg","k":"s","m":-0.65,"v":0.22},{"e":"Mg","k":"s","m":-0.52,"v":0.2},{"e":"Mg","k":"s","m":0.5,"v":0.02},{"e":"Mg","k":"s","m":0.27,"v":0.12},{"e":"Mg","k":"s","m":0.18,"v":0.14},
{"e":"Mg","k":"s","m":-0.45,"v":0.16},{"e":"Mg","k":"s","m":-0.38,"v":0.155},{"e":"Mg","k":"s","m":-0.3,"v":0.165},{"e":"Mg","k":"s","m":-0.2,"v":0.15},
{"e":"Mg","k":"s","m":-0.47,"v":0.13},{"e":"Mg","k":"s","m":-0.4,"v":0.125},{"e":"Mg","k":"s","m":-0.33,"v":0.135},{"e":"Mg","k":"s","m":-0.26,"v":0.13},{"e":"Mg","k":"s","m":-0.18,"v":0.128},{"e":"Mg","k":"s","m":-0.1,"v":0.132},{"e":"Mg","k":"s","m":0.0,"v":0.125},
{"e":"Mg","k":"s","m":-0.44,"v":0.1},{"e":"Mg","k":"s","m":-0.37,"v":0.098},{"e":"Mg","k":"s","m":-0.3,"v":0.104},{"e":"Mg","k":"s","m":-0.23,"v":0.1},{"e":"Mg","k":"s","m":-0.15,"v":0.097},{"e":"Mg","k":"s","m":-0.08,"v":0.103},{"e":"Mg","k":"s","m":0.0,"v":0.1},{"e":"Mg","k":"s","m":0.08,"v":0.098},{"e":"Mg","k":"s","m":0.15,"v":0.102},
{"e":"Mg","k":"s","m":-0.4,"v":0.07},{"e":"Mg","k":"s","m":-0.33,"v":0.068},{"e":"Mg","k":"s","m":-0.26,"v":0.073},{"e":"Mg","k":"s","m":-0.19,"v":0.069},{"e":"Mg","k":"s","m":-0.11,"v":0.072},{"e":"Mg","k":"s","m":-0.04,"v":0.067},{"e":"Mg","k":"s","m":0.04,"v":0.071},{"e":"Mg","k":"s","m":0.11,"v":0.07},{"e":"Mg","k":"s","m":0.19,"v":0.068},{"e":"Mg","k":"s","m":0.26,"v":0.073},
{"e":"Mg","k":"s","m":-0.35,"v":0.04},{"e":"Mg","k":"s","m":-0.28,"v":0.043},{"e":"Mg","k":"s","m":-0.21,"v":0.037},{"e":"Mg","k":"s","m":-0.14,"v":0.041},{"e":"Mg","k":"s","m":-0.06,"v":0.039},{"e":"Mg","k":"s","m":0.01,"v":0.042},{"e":"Mg","k":"s","m":0.08,"v":0.038},{"e":"Mg","k":"s","m":0.16,"v":0.041},{"e":"Mg","k":"s","m":0.23,"v":0.037},{"e":"Mg","k":"s","m":0.3,"v":0.042},{"e":"Mg","k":"s","m":0.37,"v":0.04},
{"e":"Mg","k":"s","m":-0.3,"v":0.01},{"e":"Mg","k":"s","m":-0.23,"v":0.007},{"e":"Mg","k":"s","m":-0.16,"v":0.012},{"e":"Mg","k":"s","m":-0.09,"v":0.008},{"e":"Mg","k":"s","m":-0.02,"v":0.011},{"e":"Mg","k":"s","m":0.05,"v":0.009},{"e":"Mg","k":"s","m":0.12,"v":0.013},{"e":"Mg","k":"s","m":0.19,"v":0.007},{"e":"Mg","k":"s","m":0.26,"v":0.01},{"e":"Mg","k":"s","m":0.33,"v":0.012},{"e":"Mg","k":"s","m":0.4,"v":0.008},
{"e":"Mg","k":"s","m":-0.2,"v":-0.02},{"e":"Mg","k":"s","m":-0.12,"v":-0.018},{"e":"Mg","k":"s","m":-0.05,"v":-0.023},{"e":"Mg","k":"s","m":0.02,"v":-0.019},{"e":"Mg","k":"s","m":0.09,"v":-0.021},{"e":"Mg","k":"s","m":0.16,"v":-0.017},{"e":"Mg","k":"s","m":0.23,"v":-0.022},{"e":"Mg","k":"s","m":0.3,"v":-0.02},{"e":"Mg","k":"s","m":0.37,"v":-0.018},
{"e":"Mg","k":"s","m":-0.1,"v":-0.05},{"e":"Mg","k":"s","m":-0.02,"v":-0.048},{"e":"Mg","k":"s","m":0.06,"v":-0.053},{"e":"Mg","k":"s","m":0.13,"v":-0.049},{"e":"Mg","k":"s","m":0.2,"v":-0.051},{"e":"Mg","k":"s","m":0.28,"v":-0.047},{"e":"Mg","k":"s","m":0.35,"v":-0.052},
{"e":"Mg","k":"s","m":0.0,"v":-0.08},{"e":"Mg","k":"s","m":0.1,"v":-0.078},{"e":"Mg","k":"s","m":0.2,"v":-0.083},{"e":"Mg","k":"s","m":0.3,"v":-0.079},
{"e":"Si","k":"s","m":-1.04,"v":0.31},{"e":"Si","k":"s","m":-0.84,"v":0.26},{"e":"Si","k":"s","m":-0.71,"v":0.3},{"e":"Si","k":"s","m":-0.78,"v":0.23},{"e":"Si","k":"s","m":-0.83,"v":0.18},{"e":"Si","k":"s","m":-0.65,"v":0.1},{"e":"Si","k":"s","m":-0.63,"v":0.05},{"e":"Si","k":"s","m":-0.66,"v":-0.01},{"e":"Si","k":"s","m":-0.6,"v":0.08},{"e":"Si","k":"s","m":-0.47,"v":0.17},{"e":"Si","k":"s","m":-0.5,"v":0.2},{"e":"Si","k":"s","m":-0.52,"v":0.13},{"e":"Si","k":"s","m":-0.15,"v":-0.2},{"e":"Si","k":"s","m":0.01,"v":-0.24},{"e":"Si","k":"s","m":0.26,"v":0.1},{"e":"Si","k":"s","m":0.35,"v":-0.02},{"e":"Si","k":"s","m":0.45,"v":-0.04},{"e":"Si","k":"s","m":-0.45,"v":0.1},{"e":"Si","k":"s","m":-0.42,"v":0.07},{"e":"Si","k":"s","m":-0.4,"v":0.04},{"e":"Si","k":"s","m":-0.55,"v":0.1},{"e":"Si","k":"s","m":-0.3,"v":0.12},{"e":"Si","k":"s","m":-0.2,"v":0.1},{"e":"Si","k":"s","m":0.1,"v":0.08},{"e":"Si","k":"s","m":0.2,"v":0.07},{"e":"Si","k":"s","m":0.4,"v":-0.15},{"e":"Si","k":"s","m":0.3,"v":-0.18},{"e":"Si","k":"s","m":-0.3,"v":-0.15},{"e":"Si","k":"s","m":-0.1,"v":-0.17},{"e":"Si","k":"s","m":0.12,"v":-0.2},{"e":"Si","k":"s","m":-0.69,"v":0.22},{"e":"Si","k":"s","m":-0.5,"v":0.26},
{"e":"Si","k":"s","m":-0.35,"v":0.05},{"e":"Si","k":"s","m":-0.25,"v":0.045},{"e":"Si","k":"s","m":-0.12,"v":0.052},{"e":"Si","k":"s","m":0.0,"v":0.047},{"e":"Si","k":"s","m":0.15,"v":0.05},
{"e":"Si","k":"s","m":-0.37,"v":0.02},{"e":"Si","k":"s","m":-0.3,"v":0.023},{"e":"Si","k":"s","m":-0.22,"v":0.018},{"e":"Si","k":"s","m":-0.14,"v":0.021},{"e":"Si","k":"s","m":-0.07,"v":0.019},{"e":"Si","k":"s","m":0.0,"v":0.022},{"e":"Si","k":"s","m":0.07,"v":0.02},{"e":"Si","k":"s","m":0.14,"v":0.017},{"e":"Si","k":"s","m":0.21,"v":0.023},{"e":"Si","k":"s","m":0.28,"v":0.02},
{"e":"Si","k":"s","m":-0.38,"v":-0.01},{"e":"Si","k":"s","m":-0.31,"v":-0.013},{"e":"Si","k":"s","m":-0.24,"v":-0.008},{"e":"Si","k":"s","m":-0.17,"v":-0.011},{"e":"Si","k":"s","m":-0.1,"v":-0.009},{"e":"Si","k":"s","m":-0.03,"v":-0.012},{"e":"Si","k":"s","m":0.04,"v":-0.007},{"e":"Si","k":"s","m":0.11,"v":-0.01},{"e":"Si","k":"s","m":0.18,"v":-0.012},{"e":"Si","k":"s","m":0.25,"v":-0.009},{"e":"Si","k":"s","m":0.32,"v":-0.011},{"e":"Si","k":"s","m":0.39,"v":-0.008},
{"e":"Si","k":"s","m":-0.35,"v":-0.04},{"e":"Si","k":"s","m":-0.28,"v":-0.038},{"e":"Si","k":"s","m":-0.21,"v":-0.043},{"e":"Si","k":"s","m":-0.14,"v":-0.039},{"e":"Si","k":"s","m":-0.07,"v":-0.041},{"e":"Si","k":"s","m":0.0,"v":-0.037},{"e":"Si","k":"s","m":0.07,"v":-0.042},{"e":"Si","k":"s","m":0.14,"v":-0.04},{"e":"Si","k":"s","m":0.21,"v":-0.038},{"e":"Si","k":"s","m":0.28,"v":-0.043},{"e":"Si","k":"s","m":0.35,"v":-0.04},{"e":"Si","k":"s","m":0.42,"v":-0.039},
{"e":"Si","k":"s","m":-0.33,"v":-0.07},{"e":"Si","k":"s","m":-0.26,"v":-0.068},{"e":"Si","k":"s","m":-0.19,"v":-0.073},{"e":"Si","k":"s","m":-0.12,"v":-0.069},{"e":"Si","k":"s","m":-0.05,"v":-0.071},{"e":"Si","k":"s","m":0.02,"v":-0.067},{"e":"Si","k":"s","m":0.09,"v":-0.072},{"e":"Si","k":"s","m":0.16,"v":-0.07},{"e":"Si","k":"s","m":0.23,"v":-0.068},{"e":"Si","k":"s","m":0.3,"v":-0.073},{"e":"Si","k":"s","m":0.37,"v":-0.07},
{"e":"Si","k":"s","m":-0.3,"v":-0.1},{"e":"Si","k":"s","m":-0.22,"v":-0.098},{"e":"Si","k":"s","m":-0.15,"v":-0.103},{"e":"Si","k":"s","m":-0.08,"v":-0.099},{"e":"Si","k":"s","m":-0.01,"v":-0.101},{"e":"Si","k":"s","m":0.06,"v":-0.097},{"e":"Si","k":"s","m":0.13,"v":-0.102},{"e":"Si","k":"s","m":0.2,"v":-0.1},{"e":"Si","k":"s","m":0.27,"v":-0.098},{"e":"Si","k":"s","m":0.34,"v":-0.103},
{"e":"Si","k":"s","m":-0.2,"v":-0.13},{"e":"Si","k":"s","m":-0.1,"v":-0.128},{"e":"Si","k":"s","m":0.0,"v":-0.133},{"e":"Si","k":"s","m":0.1,"v":-0.129},{"e":"Si","k":"s","m":0.2,"v":-0.131},{"e":"Si","k":"s","m":0.3,"v":-0.127},
{"e":"Si","k":"s","m":-0.05,"v":-0.16},{"e":"Si","k":"s","m":0.05,"v":-0.158},{"e":"Si","k":"s","m":0.15,"v":-0.163},
{"e":"S","k":"s","m":-0.85,"v":0.45},{"e":"S","k":"s","m":-0.85,"v":0.37},{"e":"S","k":"s","m":-0.8,"v":0.38},{"e":"S","k":"s","m":-0.73,"v":0.29},{"e":"S","k":"s","m":-0.7,"v":0.33},{"e":"S","k":"s","m":-0.56,"v":0.31},{"e":"S","k":"s","m":-0.49,"v":0.31},{"e":"S","k":"s","m":-0.37,"v":0.37},{"e":"S","k":"s","m":-0.4,"v":0.27},{"e":"S","k":"s","m":-0.81,"v":0.025},{"e":"S","k":"s","m":-0.73,"v":0.025},{"e":"S","k":"s","m":-0.66,"v":0.025},{"e":"S","k":"s","m":-0.73,"v":0.13},{"e":"S","k":"s","m":-0.68,"v":0.14},{"e":"S","k":"s","m":-0.47,"v":0.01},{"e":"S","k":"s","m":-0.45,"v":-0.06},{"e":"S","k":"s","m":-0.45,"v":-0.14},{"e":"S","k":"s","m":-0.42,"v":-0.18},{"e":"S","k":"s","m":-0.33,"v":-0.22},{"e":"S","k":"s","m":-0.25,"v":-0.27},{"e":"S","k":"s","m":-0.32,"v":-0.335},{"e":"S","k":"s","m":-0.3,"v":-0.37},{"e":"S","k":"s","m":-0.15,"v":-0.41},{"e":"S","k":"s","m":-0.14,"v":-0.44},{"e":"S","k":"s","m":-0.06,"v":-0.32},{"e":"S","k":"s","m":0.3,"v":-0.31},{"e":"S","k":"s","m":0.28,"v":-0.4},{"e":"S","k":"s","m":0.43,"v":-0.44},{"e":"S","k":"s","m":0.43,"v":-0.04},{"e":"S","k":"s","m":0.47,"v":-0.06},{"e":"S","k":"s","m":0.52,"v":-0.04},{"e":"S","k":"s","m":0.4,"v":-0.1},{"e":"S","k":"s","m":-0.6,"v":0.2},{"e":"S","k":"s","m":-0.5,"v":0.1},{"e":"S","k":"s","m":-0.55,"v":0.05},{"e":"S","k":"s","m":-0.3,"v":0.2},{"e":"S","k":"s","m":-0.2,"v":0.17},{"e":"S","k":"s","m":0.0,"v":0.2},{"e":"S","k":"s","m":0.1,"v":0.15},{"e":"S","k":"s","m":-0.6,"v":0.12},{"e":"S","k":"s","m":0.05,"v":-0.3},{"e":"S","k":"s","m":0.15,"v":-0.28},{"e":"S","k":"s","m":-0.15,"v":-0.3},{"e":"S","k":"s","m":0.2,"v":-0.35},
{"e":"S","k":"s","m":-0.3,"v":0.08},{"e":"S","k":"s","m":-0.2,"v":0.075},{"e":"S","k":"s","m":-0.1,"v":0.085},{"e":"S","k":"s","m":0.0,"v":0.078},{"e":"S","k":"s","m":0.1,"v":0.082},
{"e":"S","k":"s","m":-0.36,"v":0.05},{"e":"S","k":"s","m":-0.28,"v":0.053},{"e":"S","k":"s","m":-0.2,"v":0.047},{"e":"S","k":"s","m":-0.12,"v":0.051},{"e":"S","k":"s","m":-0.04,"v":0.049},{"e":"S","k":"s","m":0.04,"v":0.052},{"e":"S","k":"s","m":0.12,"v":0.048},{"e":"S","k":"s","m":0.2,"v":0.05},
{"e":"S","k":"s","m":-0.38,"v":0.02},{"e":"S","k":"s","m":-0.3,"v":0.018},{"e":"S","k":"s","m":-0.22,"v":0.023},{"e":"S","k":"s","m":-0.14,"v":0.019},{"e":"S","k":"s","m":-0.06,"v":0.021},{"e":"S","k":"s","m":0.02,"v":0.017},{"e":"S","k":"s","m":0.1,"v":0.022},{"e":"S","k":"s","m":0.18,"v":0.02},{"e":"S","k":"s","m":0.26,"v":0.018},{"e":"S","k":"s","m":0.34,"v":0.022},
{"e":"S","k":"s","m":-0.35,"v":-0.01},{"e":"S","k":"s","m":-0.27,"v":-0.012},{"e":"S","k":"s","m":-0.19,"v":-0.008},{"e":"S","k":"s","m":-0.11,"v":-0.011},{"e":"S","k":"s","m":-0.03,"v":-0.009},{"e":"S","k":"s","m":0.05,"v":-0.012},{"e":"S","k":"s","m":0.13,"v":-0.01},{"e":"S","k":"s","m":0.21,"v":-0.008},{"e":"S","k":"s","m":0.29,"v":-0.011},{"e":"S","k":"s","m":0.37,"v":-0.009},
{"e":"S","k":"s","m":-0.37,"v":-0.04},{"e":"S","k":"s","m":-0.29,"v":-0.042},{"e":"S","k":"s","m":-0.21,"v":-0.038},{"e":"S","k":"s","m":-0.13,"v":-0.041},{"e":"S","k":"s","m":-0.05,"v":-0.039},{"e":"S","k":"s","m":0.03,"v":-0.042},{"e":"S","k":"s","m":0.11,"v":-0.04},{"e":"S","k":"s","m":0.19,"v":-0.038},{"e":"S","k":"s","m":0.27,"v":-0.041},{"e":"S","k":"s","m":0.35,"v":-0.039},
{"e":"S","k":"s","m":-0.34,"v":-0.07},{"e":"S","k":"s","m":-0.26,"v":-0.068},{"e":"S","k":"s","m":-0.18,"v":-0.072},{"e":"S","k":"s","m":-0.1,"v":-0.069},{"e":"S","k":"s","m":-0.02,"v":-0.071},{"e":"S","k":"s","m":0.06,"v":-0.068},{"e":"S","k":"s","m":0.14,"v":-0.072},{"e":"S","k":"s","m":0.22,"v":-0.07},{"e":"S","k":"s","m":0.3,"v":-0.068},{"e":"S","k":"s","m":0.38,"v":-0.071},
{"e":"S","k":"s","m":-0.36,"v":-0.1},{"e":"S","k":"s","m":-0.28,"v":-0.098},{"e":"S","k":"s","m":-0.2,"v":-0.102},{"e":"S","k":"s","m":-0.12,"v":-0.099},{"e":"S","k":"s","m":-0.04,"v":-0.101},{"e":"S","k":"s","m":0.04,"v":-0.098},{"e":"S","k":"s","m":0.12,"v":-0.102},{"e":"S","k":"s","m":0.2,"v":-0.1},{"e":"S","k":"s","m":0.28,"v":-0.099},{"e":"S","k":"s","m":0.36,"v":-0.101},
{"e":"S","k":"s","m":-0.32,"v":-0.13},{"e":"S","k":"s","m":-0.24,"v":-0.128},{"e":"S","k":"s","m":-0.16,"v":-0.132},{"e":"S","k":"s","m":-0.08,"v":-0.129},{"e":"S","k":"s","m":0.0,"v":-0.131},{"e":"S","k":"s","m":0.08,"v":-0.128},{"e":"S","k":"s","m":0.16,"v":-0.132},{"e":"S","k":"s","m":0.24,"v":-0.13},{"e":"S","k":"s","m":0.32,"v":-0.129},
{"e":"S","k":"s","m":-0.28,"v":-0.16},{"e":"S","k":"s","m":-0.18,"v":-0.158},{"e":"S","k":"s","m":-0.08,"v":-0.162},{"e":"S","k":"s","m":0.02,"v":-0.159},{"e":"S","k":"s","m":0.12,"v":-0.161},{"e":"S","k":"s","m":0.22,"v":-0.158},{"e":"S","k":"s","m":0.3,"v":-0.162},
{"e":"S","k":"s","m":-0.22,"v":-0.19},{"e":"S","k":"s","m":-0.12,"v":-0.188},{"e":"S","k":"s","m":0.0,"v":-0.192},{"e":"S","k":"s","m":0.1,"v":-0.189},{"e":"S","k":"s","m":0.2,"v":-0.191},
{"e":"S","k":"s","m":-0.1,"v":-0.22},{"e":"S","k":"s","m":0.05,"v":-0.225},{"e":"S","k":"s","m":0.15,"v":-0.218},
{"e":"Ca","k":"s","m":-1.04,"v":0.28},{"e":"Ca","k":"s","m":-0.85,"v":0.16},{"e":"Ca","k":"s","m":-0.83,"v":0.13},{"e":"Ca","k":"s","m":-0.78,"v":0.17},{"e":"Ca","k":"s","m":-0.71,"v":0.19},{"e":"Ca","k":"s","m":-0.84,"v":-0.04},{"e":"Ca","k":"s","m":-0.8,"v":0.0},{"e":"Ca","k":"s","m":-0.47,"v":0.175},{"e":"Ca","k":"s","m":-0.4,"v":0.19},{"e":"Ca","k":"s","m":-0.42,"v":0.12},{"e":"Ca","k":"s","m":-0.22,"v":-0.15},{"e":"Ca","k":"s","m":0.17,"v":-0.155},{"e":"Ca","k":"s","m":0.23,"v":-0.155},{"e":"Ca","k":"s","m":0.45,"v":-0.06},{"e":"Ca","k":"s","m":0.5,"v":-0.07},{"e":"Ca","k":"s","m":-0.5,"v":0.06},{"e":"Ca","k":"s","m":-0.45,"v":0.03},{"e":"Ca","k":"s","m":-0.55,"v":0.09},{"e":"Ca","k":"s","m":-0.35,"v":0.1},{"e":"Ca","k":"s","m":-0.15,"v":0.1},{"e":"Ca","k":"s","m":0.0,"v":0.07},{"e":"Ca","k":"s","m":0.3,"v":0.02},{"e":"Ca","k":"s","m":0.4,"v":-0.12},{"e":"Ca","k":"s","m":-0.3,"v":-0.09},{"e":"Ca","k":"s","m":-0.1,"v":-0.14},{"e":"Ca","k":"s","m":0.1,"v":-0.16},{"e":"Ca","k":"s","m":-0.6,"v":0.11},{"e":"Ca","k":"s","m":-0.65,"v":0.14},
{"e":"Ca","k":"s","m":-0.3,"v":0.05},{"e":"Ca","k":"s","m":-0.22,"v":0.047},{"e":"Ca","k":"s","m":-0.14,"v":0.052},{"e":"Ca","k":"s","m":-0.06,"v":0.049},
{"e":"Ca","k":"s","m":-0.32,"v":0.03},{"e":"Ca","k":"s","m":-0.25,"v":0.028},{"e":"Ca","k":"s","m":-0.18,"v":0.033},{"e":"Ca","k":"s","m":-0.1,"v":0.029},{"e":"Ca","k":"s","m":-0.02,"v":0.031},{"e":"Ca","k":"s","m":0.06,"v":0.027},{"e":"Ca","k":"s","m":0.14,"v":0.03},
{"e":"Ca","k":"s","m":-0.32,"v":0.0},{"e":"Ca","k":"s","m":-0.25,"v":-0.003},{"e":"Ca","k":"s","m":-0.18,"v":0.002},{"e":"Ca","k":"s","m":-0.11,"v":-0.001},{"e":"Ca","k":"s","m":-0.04,"v":0.003},{"e":"Ca","k":"s","m":0.03,"v":-0.002},{"e":"Ca","k":"s","m":0.1,"v":0.001},{"e":"Ca","k":"s","m":0.17,"v":-0.003},{"e":"Ca","k":"s","m":0.24,"v":0.002},{"e":"Ca","k":"s","m":0.31,"v":0.0},
{"e":"Ca","k":"s","m":-0.3,"v":-0.03},{"e":"Ca","k":"s","m":-0.23,"v":-0.028},{"e":"Ca","k":"s","m":-0.16,"v":-0.033},{"e":"Ca","k":"s","m":-0.09,"v":-0.029},{"e":"Ca","k":"s","m":-0.02,"v":-0.031},{"e":"Ca","k":"s","m":0.05,"v":-0.027},{"e":"Ca","k":"s","m":0.12,"v":-0.032},{"e":"Ca","k":"s","m":0.19,"v":-0.03},{"e":"Ca","k":"s","m":0.26,"v":-0.028},{"e":"Ca","k":"s","m":0.33,"v":-0.031},{"e":"Ca","k":"s","m":0.4,"v":-0.029},
{"e":"Ca","k":"s","m":-0.27,"v":-0.06},{"e":"Ca","k":"s","m":-0.2,"v":-0.058},{"e":"Ca","k":"s","m":-0.13,"v":-0.062},{"e":"Ca","k":"s","m":-0.06,"v":-0.059},{"e":"Ca","k":"s","m":0.01,"v":-0.061},{"e":"Ca","k":"s","m":0.08,"v":-0.057},{"e":"Ca","k":"s","m":0.15,"v":-0.062},{"e":"Ca","k":"s","m":0.22,"v":-0.06},{"e":"Ca","k":"s","m":0.29,"v":-0.058},{"e":"Ca","k":"s","m":0.36,"v":-0.061},{"e":"Ca","k":"s","m":0.42,"v":-0.059},
{"e":"Ca","k":"s","m":-0.2,"v":-0.09},{"e":"Ca","k":"s","m":-0.12,"v":-0.088},{"e":"Ca","k":"s","m":-0.04,"v":-0.092},{"e":"Ca","k":"s","m":0.04,"v":-0.089},{"e":"Ca","k":"s","m":0.12,"v":-0.091},{"e":"Ca","k":"s","m":0.2,"v":-0.087},{"e":"Ca","k":"s","m":0.28,"v":-0.092},{"e":"Ca","k":"s","m":0.36,"v":-0.09},
{"e":"Ca","k":"s","m":-0.05,"v":-0.12},{"e":"Ca","k":"s","m":0.05,"v":-0.118},{"e":"Ca","k":"s","m":0.15,"v":-0.122},{"e":"Ca","k":"s","m":0.25,"v":-0.119},{"e":"Ca","k":"s","m":0.33,"v":-0.121},
{"e":"Ti","k":"s","m":-0.6,"v":0.36},{"e":"Ti","k":"s","m":-0.29,"v":0.4},{"e":"Ti","k":"s","m":-0.45,"v":0.28},{"e":"Ti","k":"s","m":-0.18,"v":0.31},{"e":"Ti","k":"s","m":-0.1,"v":0.28},{"e":"Ti","k":"s","m":-0.15,"v":0.26},{"e":"Ti","k":"s","m":0.26,"v":0.33},{"e":"Ti","k":"s","m":0.27,"v":0.26},{"e":"Ti","k":"s","m":0.49,"v":0.19},{"e":"Ti","k":"s","m":0.44,"v":0.1},{"e":"Ti","k":"s","m":0.33,"v":-0.08},{"e":"Ti","k":"s","m":0.16,"v":-0.155},{"e":"Ti","k":"s","m":-0.84,"v":-0.04},{"e":"Ti","k":"s","m":-1.05,"v":0.15},{"e":"Ti","k":"s","m":-0.88,"v":0.15},{"e":"Ti","k":"s","m":-0.8,"v":0.12},{"e":"Ti","k":"s","m":-0.73,"v":0.2},{"e":"Ti","k":"s","m":-0.68,"v":0.09},{"e":"Ti","k":"s","m":-0.7,"v":0.03},{"e":"Ti","k":"s","m":-0.61,"v":0.11},{"e":"Ti","k":"s","m":-0.55,"v":0.15},{"e":"Ti","k":"s","m":-0.5,"v":0.07},{"e":"Ti","k":"s","m":-0.47,"v":0.01},{"e":"Ti","k":"s","m":-0.52,"v":-0.02},{"e":"Ti","k":"s","m":-0.4,"v":0.22},{"e":"Ti","k":"s","m":-0.3,"v":0.25},{"e":"Ti","k":"s","m":0.0,"v":0.26},{"e":"Ti","k":"s","m":0.1,"v":0.24},{"e":"Ti","k":"s","m":0.2,"v":0.22},{"e":"Ti","k":"s","m":0.35,"v":0.22},{"e":"Ti","k":"s","m":0.42,"v":0.15},{"e":"Ti","k":"s","m":-0.3,"v":-0.06},{"e":"Ti","k":"s","m":-0.1,"v":-0.07},{"e":"Ti","k":"s","m":0.1,"v":-0.06},{"e":"Ti","k":"s","m":0.3,"v":-0.05},{"e":"Ti","k":"s","m":-0.58,"v":0.21},{"e":"Ti","k":"s","m":-0.38,"v":-0.03},
{"e":"Ti","k":"s","m":-0.2,"v":0.17},{"e":"Ti","k":"s","m":-0.05,"v":0.175},{"e":"Ti","k":"s","m":0.1,"v":0.168},{"e":"Ti","k":"s","m":0.22,"v":0.172},{"e":"Ti","k":"s","m":0.32,"v":0.17},
{"e":"Ti","k":"s","m":-0.35,"v":0.14},{"e":"Ti","k":"s","m":-0.27,"v":0.137},{"e":"Ti","k":"s","m":-0.19,"v":0.143},{"e":"Ti","k":"s","m":-0.11,"v":0.139},{"e":"Ti","k":"s","m":-0.03,"v":0.141},{"e":"Ti","k":"s","m":0.05,"v":0.138},{"e":"Ti","k":"s","m":0.13,"v":0.142},{"e":"Ti","k":"s","m":0.21,"v":0.14},{"e":"Ti","k":"s","m":0.29,"v":0.137},{"e":"Ti","k":"s","m":0.37,"v":0.143},
{"e":"Ti","k":"s","m":-0.38,"v":0.11},{"e":"Ti","k":"s","m":-0.3,"v":0.108},{"e":"Ti","k":"s","m":-0.22,"v":0.113},{"e":"Ti","k":"s","m":-0.14,"v":0.109},{"e":"Ti","k":"s","m":-0.06,"v":0.111},{"e":"Ti","k":"s","m":0.02,"v":0.107},{"e":"Ti","k":"s","m":0.1,"v":0.112},{"e":"Ti","k":"s","m":0.18,"v":0.11},{"e":"Ti","k":"s","m":0.26,"v":0.108},{"e":"Ti","k":"s","m":0.34,"v":0.113},{"e":"Ti","k":"s","m":0.41,"v":0.11},
{"e":"Ti","k":"s","m":-0.36,"v":0.08},{"e":"Ti","k":"s","m":-0.28,"v":0.083},{"e":"Ti","k":"s","m":-0.2,"v":0.078},{"e":"Ti","k":"s","m":-0.12,"v":0.081},{"e":"Ti","k":"s","m":-0.04,"v":0.079},{"e":"Ti","k":"s","m":0.04,"v":0.082},{"e":"Ti","k":"s","m":0.12,"v":0.078},{"e":"Ti","k":"s","m":0.2,"v":0.081},{"e":"Ti","k":"s","m":0.28,"v":0.079},{"e":"Ti","k":"s","m":0.36,"v":0.082},{"e":"Ti","k":"s","m":0.42,"v":0.08},
{"e":"Ti","k":"s","m":-0.34,"v":0.05},{"e":"Ti","k":"s","m":-0.26,"v":0.048},{"e":"Ti","k":"s","m":-0.18,"v":0.053},{"e":"Ti","k":"s","m":-0.1,"v":0.049},{"e":"Ti","k":"s","m":-0.02,"v":0.051},{"e":"Ti","k":"s","m":0.06,"v":0.047},{"e":"Ti","k":"s","m":0.14,"v":0.052},{"e":"Ti","k":"s","m":0.22,"v":0.05},{"e":"Ti","k":"s","m":0.3,"v":0.048},{"e":"Ti","k":"s","m":0.38,"v":0.051},
{"e":"Ti","k":"s","m":-0.3,"v":0.02},{"e":"Ti","k":"s","m":-0.22,"v":0.018},{"e":"Ti","k":"s","m":-0.14,"v":0.023},{"e":"Ti","k":"s","m":-0.06,"v":0.019},{"e":"Ti","k":"s","m":0.02,"v":0.021},{"e":"Ti","k":"s","m":0.1,"v":0.017},{"e":"Ti","k":"s","m":0.18,"v":0.022},{"e":"Ti","k":"s","m":0.26,"v":0.02},{"e":"Ti","k":"s","m":0.34,"v":0.018},
{"e":"Ti","k":"s","m":-0.2,"v":-0.01},{"e":"Ti","k":"s","m":-0.1,"v":-0.012},{"e":"Ti","k":"s","m":0.0,"v":-0.008},{"e":"Ti","k":"s","m":0.1,"v":-0.011},{"e":"Ti","k":"s","m":0.2,"v":-0.009},{"e":"Ti","k":"s","m":0.3,"v":-0.012}
]
},
"concat": [
{"data": {"name": "age"}, "transform": [{"filter": "datum.e=='O'"}], "width": 138, "height": 94, "resolve": {"axis": {"x": "independent", "y": "independent"}}, "layer": [
 {"transform": [{"filter": "datum.k=='b'"}], "mark": {"type": "rect", "color": "#9ccff5", "clip": true}, "encoding": {"x": {"field": "a1", "type": "quantitative", "scale": {"type": "log", "domain": [0.1, 20], "nice": false}, "axis": {"orient": "bottom", "values": [0.1, 1, 10], "labels": false, "title": null}}, "x2": {"field": "a2"}, "y": {"field": "y1", "type": "quantitative", "scale": {"domain": [-0.51, 0.51], "nice": false, "zero": false}, "axis": {"orient": "left", "values": [-0.4, -0.2, 0, 0.2, 0.4], "format": ".1f", "title": "[X/M]"}}, "y2": {"field": "y2"}}},
 {"transform": [{"filter": "datum.k=='m'"}], "mark": {"type": "line", "strokeWidth": 1, "clip": true}, "encoding": {"x": {"field": "a", "type": "quantitative", "axis": {"orient": "top", "values": [0.1, 1, 10], "labels": false, "title": null}}, "y": {"field": "v", "type": "quantitative", "axis": {"orient": "right", "values": [-0.4, -0.2, 0, 0.2, 0.4], "labels": false, "title": null}}, "color": {"field": "mod", "type": "nominal", "scale": {"domain": ["r", "b", "g"], "range": ["#ff0000", "#0000ff", "#00cc00"]}, "legend": null}, "strokeDash": {"field": "mod", "type": "nominal", "scale": {"domain": ["r", "b", "g"], "range": [[1, 2], [5, 2, 1, 2], [5, 3]]}, "legend": null}}},
 {"transform": [{"filter": "datum.k=='p'"}], "mark": {"type": "rule", "color": "black", "strokeWidth": 1}, "encoding": {"x": {"field": "lo", "type": "quantitative", "axis": {"orient": "bottom", "values": [0.2, 0.3, 0.4, 0.5, 0.6, 0.7, 0.8, 0.9, 2, 3, 4, 5, 6, 7, 8, 9], "labels": false, "title": null, "tickSize": -2.5}}, "x2": {"field": "hi"}, "y": {"field": "v", "type": "quantitative", "axis": {"orient": "left", "values": [-0.45, -0.35, -0.3, -0.25, -0.15, -0.1, -0.05, 0.05, 0.1, 0.15, 0.25, 0.3, 0.35, 0.45], "labels": false, "title": null, "tickSize": -2.5}}}},
 {"transform": [{"filter": "datum.k=='p'"}, {"fold": ["lo", "hi"], "as": ["w", "c"]}], "mark": {"type": "tick", "orient": "vertical", "size": 5, "thickness": 1, "color": "black", "opacity": 1}, "encoding": {"x": {"field": "c", "type": "quantitative", "axis": {"orient": "top", "values": [0.2, 0.3, 0.4, 0.5, 0.6, 0.7, 0.8, 0.9, 2, 3, 4, 5, 6, 7, 8, 9], "labels": false, "title": null, "tickSize": -2.5}}, "y": {"field": "v", "type": "quantitative", "axis": {"orient": "right", "values": [-0.45, -0.35, -0.3, -0.25, -0.15, -0.1, -0.05, 0.05, 0.1, 0.15, 0.25, 0.3, 0.35, 0.45], "labels": false, "title": null, "tickSize": -2.5}}}},
 {"transform": [{"filter": "datum.k=='p'"}], "mark": {"type": "square", "size": 7, "color": "black", "opacity": 1}, "encoding": {"x": {"field": "a", "type": "quantitative", "axis": null}, "y": {"field": "v", "type": "quantitative", "axis": null}}},
 {"transform": [{"filter": "datum.k=='p'"}, {"aggregate": [{"op": "count", "as": "n"}], "groupby": ["e"]}], "mark": {"type": "text", "align": "left", "baseline": "middle", "fontSize": 12, "font": "Liberation Sans", "color": "black"}, "encoding": {"x": {"datum": 0.2, "type": "quantitative", "axis": null}, "y": {"datum": -0.38, "type": "quantitative", "axis": null}, "text": {"field": "e"}}}
]},
{"data": {"name": "mh"}, "transform": [{"filter": "datum.e=='O'"}], "width": 138, "height": 94, "resolve": {"axis": {"x": "independent", "y": "independent"}}, "layer": [
 {"transform": [{"filter": "datum.k=='s'"}], "mark": {"type": "circle", "size": 18, "color": "black", "opacity": 1, "clip": true}, "encoding": {"x": {"field": "m", "type": "quantitative", "scale": {"domain": [-1.3, 0.6], "nice": false, "zero": false}, "axis": {"orient": "bottom", "values": [-1, -0.5, 0, 0.5], "labels": false, "title": null}}, "y": {"field": "v", "type": "quantitative", "scale": {"domain": [-0.51, 0.51], "nice": false, "zero": false}, "axis": {"orient": "left", "values": [-0.4, -0.2, 0, 0.2, 0.4], "labels": false, "title": null}}}},
 {"transform": [{"filter": "datum.k=='m' && datum.mod=='r'"}], "mark": {"type": "line", "strokeWidth": 1, "clip": true}, "encoding": {"x": {"field": "m", "type": "quantitative", "axis": {"orient": "top", "values": [-1, -0.5, 0, 0.5], "labels": false, "title": null}}, "y": {"field": "v", "type": "quantitative", "axis": {"orient": "right", "values": [-0.4, -0.2, 0, 0.2, 0.4], "labels": false, "title": null}}, "color": {"field": "mod", "type": "nominal", "scale": {"domain": ["r", "b", "g"], "range": ["#ff0000", "#0000ff", "#00cc00"]}, "legend": null}, "strokeDash": {"field": "mod", "type": "nominal", "scale": {"domain": ["r", "b", "g"], "range": [[1, 2], [5, 2, 1, 2], [5, 3]]}, "legend": null}}},
 {"transform": [{"filter": "datum.k=='m' && datum.mod=='b'"}], "mark": {"type": "line", "strokeWidth": 1, "clip": true}, "encoding": {"x": {"field": "m", "type": "quantitative", "axis": {"orient": "bottom", "values": [-1.2, -1.1, -0.9, -0.8, -0.7, -0.6, -0.4, -0.3, -0.2, -0.1, 0.1, 0.2, 0.3, 0.4], "labels": false, "title": null, "tickSize": -2.5}}, "y": {"field": "v", "type": "quantitative", "axis": {"orient": "left", "values": [-0.45, -0.35, -0.3, -0.25, -0.15, -0.1, -0.05, 0.05, 0.1, 0.15, 0.25, 0.3, 0.35, 0.45], "labels": false, "title": null, "tickSize": -2.5}}, "color": {"field": "mod", "type": "nominal", "scale": {"domain": ["r", "b", "g"], "range": ["#ff0000", "#0000ff", "#00cc00"]}, "legend": null}, "strokeDash": {"field": "mod", "type": "nominal", "scale": {"domain": ["r", "b", "g"], "range": [[1, 2], [5, 2, 1, 2], [5, 3]]}, "legend": null}}},
 {"transform": [{"filter": "datum.k=='m' && datum.mod=='g'"}], "mark": {"type": "line", "strokeWidth": 1, "clip": true}, "encoding": {"x": {"field": "m", "type": "quantitative", "axis": {"orient": "top", "values": [-1.2, -1.1, -0.9, -0.8, -0.7, -0.6, -0.4, -0.3, -0.2, -0.1, 0.1, 0.2, 0.3, 0.4], "labels": false, "title": null, "tickSize": -2.5}}, "y": {"field": "v", "type": "quantitative", "axis": {"orient": "right", "values": [-0.45, -0.35, -0.3, -0.25, -0.15, -0.1, -0.05, 0.05, 0.1, 0.15, 0.25, 0.3, 0.35, 0.45], "labels": false, "title": null, "tickSize": -2.5}}, "color": {"field": "mod", "type": "nominal", "scale": {"domain": ["r", "b", "g"], "range": ["#ff0000", "#0000ff", "#00cc00"]}, "legend": null}, "strokeDash": {"field": "mod", "type": "nominal", "scale": {"domain": ["r", "b", "g"], "range": [[1, 2], [5, 2, 1, 2], [5, 3]]}, "legend": null}}}
]},
{"data": {"name": "age"}, "transform": [{"filter": "datum.e=='Mg'"}], "width": 138, "height": 94, "resolve": {"axis": {"x": "independent", "y": "independent"}}, "layer": [
 {"transform": [{"filter": "datum.k=='b'"}], "mark": {"type": "rect", "color": "#9ccff5", "clip": true}, "encoding": {"x": {"field": "a1", "type": "quantitative", "scale": {"type": "log", "domain": [0.1, 20], "nice": false}, "axis": {"orient": "bottom", "values": [0.1, 1, 10], "labels": false, "title": null}}, "x2": {"field": "a2"}, "y": {"field": "y1", "type": "quantitative", "scale": {"domain": [-0.51, 0.51], "nice": false, "zero": false}, "axis": {"orient": "left", "values": [-0.4, -0.2, 0, 0.2, 0.4], "labels": false, "title": null}}, "y2": {"field": "y2"}}},
 {"transform": [{"filter": "datum.k=='m'"}], "mark": {"type": "line", "strokeWidth": 1, "clip": true}, "encoding": {"x": {"field": "a", "type": "quantitative", "axis": {"orient": "top", "values": [0.1, 1, 10], "labels": false, "title": null}}, "y": {"field": "v", "type": "quantitative", "axis": {"orient": "right", "values": [-0.4, -0.2, 0, 0.2, 0.4], "labels": false, "title": null}}, "color": {"field": "mod", "type": "nominal", "scale": {"domain": ["r", "b", "g"], "range": ["#ff0000", "#0000ff", "#00cc00"]}, "legend": null}, "strokeDash": {"field": "mod", "type": "nominal", "scale": {"domain": ["r", "b", "g"], "range": [[1, 2], [5, 2, 1, 2], [5, 3]]}, "legend": null}}},
 {"transform": [{"filter": "datum.k=='p'"}], "mark": {"type": "rule", "color": "black", "strokeWidth": 1}, "encoding": {"x": {"field": "lo", "type": "quantitative", "axis": {"orient": "bottom", "values": [0.2, 0.3, 0.4, 0.5, 0.6, 0.7, 0.8, 0.9, 2, 3, 4, 5, 6, 7, 8, 9], "labels": false, "title": null, "tickSize": -2.5}}, "x2": {"field": "hi"}, "y": {"field": "v", "type": "quantitative", "axis": {"orient": "left", "values": [-0.45, -0.35, -0.3, -0.25, -0.15, -0.1, -0.05, 0.05, 0.1, 0.15, 0.25, 0.3, 0.35, 0.45], "labels": false, "title": null, "tickSize": -2.5}}}},
 {"transform": [{"filter": "datum.k=='p'"}, {"fold": ["lo", "hi"], "as": ["w", "c"]}], "mark": {"type": "tick", "orient": "vertical", "size": 5, "thickness": 1, "color": "black", "opacity": 1}, "encoding": {"x": {"field": "c", "type": "quantitative", "axis": {"orient": "top", "values": [0.2, 0.3, 0.4, 0.5, 0.6, 0.7, 0.8, 0.9, 2, 3, 4, 5, 6, 7, 8, 9], "labels": false, "title": null, "tickSize": -2.5}}, "y": {"field": "v", "type": "quantitative", "axis": {"orient": "right", "values": [-0.45, -0.35, -0.3, -0.25, -0.15, -0.1, -0.05, 0.05, 0.1, 0.15, 0.25, 0.3, 0.35, 0.45], "labels": false, "title": null, "tickSize": -2.5}}}},
 {"transform": [{"filter": "datum.k=='p'"}], "mark": {"type": "square", "size": 7, "color": "black", "opacity": 1}, "encoding": {"x": {"field": "a", "type": "quantitative", "axis": null}, "y": {"field": "v", "type": "quantitative", "axis": null}}},
 {"transform": [{"filter": "datum.k=='p'"}, {"aggregate": [{"op": "count", "as": "n"}], "groupby": ["e"]}], "mark": {"type": "text", "align": "left", "baseline": "middle", "fontSize": 12, "font": "Liberation Sans", "color": "black"}, "encoding": {"x": {"datum": 0.2, "type": "quantitative", "axis": null}, "y": {"datum": -0.38, "type": "quantitative", "axis": null}, "text": {"field": "e"}}}
]},
{"data": {"name": "mh"}, "transform": [{"filter": "datum.e=='Mg'"}], "width": 138, "height": 94, "resolve": {"axis": {"x": "independent", "y": "independent"}}, "layer": [
 {"transform": [{"filter": "datum.k=='s'"}], "mark": {"type": "circle", "size": 18, "color": "black", "opacity": 1, "clip": true}, "encoding": {"x": {"field": "m", "type": "quantitative", "scale": {"domain": [-1.3, 0.6], "nice": false, "zero": false}, "axis": {"orient": "bottom", "values": [-1, -0.5, 0, 0.5], "labels": false, "title": null}}, "y": {"field": "v", "type": "quantitative", "scale": {"domain": [-0.51, 0.51], "nice": false, "zero": false}, "axis": {"orient": "left", "values": [-0.4, -0.2, 0, 0.2, 0.4], "labels": false, "title": null}}}},
 {"transform": [{"filter": "datum.k=='m' && datum.mod=='r'"}], "mark": {"type": "line", "strokeWidth": 1, "clip": true}, "encoding": {"x": {"field": "m", "type": "quantitative", "axis": {"orient": "top", "values": [-1, -0.5, 0, 0.5], "labels": false, "title": null}}, "y": {"field": "v", "type": "quantitative", "axis": {"orient": "right", "values": [-0.4, -0.2, 0, 0.2, 0.4], "labels": false, "title": null}}, "color": {"field": "mod", "type": "nominal", "scale": {"domain": ["r", "b", "g"], "range": ["#ff0000", "#0000ff", "#00cc00"]}, "legend": null}, "strokeDash": {"field": "mod", "type": "nominal", "scale": {"domain": ["r", "b", "g"], "range": [[1, 2], [5, 2, 1, 2], [5, 3]]}, "legend": null}}},
 {"transform": [{"filter": "datum.k=='m' && datum.mod=='b'"}], "mark": {"type": "line", "strokeWidth": 1, "clip": true}, "encoding": {"x": {"field": "m", "type": "quantitative", "axis": {"orient": "bottom", "values": [-1.2, -1.1, -0.9, -0.8, -0.7, -0.6, -0.4, -0.3, -0.2, -0.1, 0.1, 0.2, 0.3, 0.4], "labels": false, "title": null, "tickSize": -2.5}}, "y": {"field": "v", "type": "quantitative", "axis": {"orient": "left", "values": [-0.45, -0.35, -0.3, -0.25, -0.15, -0.1, -0.05, 0.05, 0.1, 0.15, 0.25, 0.3, 0.35, 0.45], "labels": false, "title": null, "tickSize": -2.5}}, "color": {"field": "mod", "type": "nominal", "scale": {"domain": ["r", "b", "g"], "range": ["#ff0000", "#0000ff", "#00cc00"]}, "legend": null}, "strokeDash": {"field": "mod", "type": "nominal", "scale": {"domain": ["r", "b", "g"], "range": [[1, 2], [5, 2, 1, 2], [5, 3]]}, "legend": null}}},
 {"transform": [{"filter": "datum.k=='m' && datum.mod=='g'"}], "mark": {"type": "line", "strokeWidth": 1, "clip": true}, "encoding": {"x": {"field": "m", "type": "quantitative", "axis": {"orient": "top", "values": [-1.2, -1.1, -0.9, -0.8, -0.7, -0.6, -0.4, -0.3, -0.2, -0.1, 0.1, 0.2, 0.3, 0.4], "labels": false, "title": null, "tickSize": -2.5}}, "y": {"field": "v", "type": "quantitative", "axis": {"orient": "right", "values": [-0.45, -0.35, -0.3, -0.25, -0.15, -0.1, -0.05, 0.05, 0.1, 0.15, 0.25, 0.3, 0.35, 0.45], "labels": false, "title": null, "tickSize": -2.5}}, "color": {"field": "mod", "type": "nominal", "scale": {"domain": ["r", "b", "g"], "range": ["#ff0000", "#0000ff", "#00cc00"]}, "legend": null}, "strokeDash": {"field": "mod", "type": "nominal", "scale": {"domain": ["r", "b", "g"], "range": [[1, 2], [5, 2, 1, 2], [5, 3]]}, "legend": null}}}
]},
{"data": {"name": "age"}, "transform": [{"filter": "datum.e=='Si'"}], "width": 138, "height": 94, "resolve": {"axis": {"x": "independent", "y": "independent"}}, "layer": [
 {"transform": [{"filter": "datum.k=='b'"}], "mark": {"type": "rect", "color": "#9ccff5", "clip": true}, "encoding": {"x": {"field": "a1", "type": "quantitative", "scale": {"type": "log", "domain": [0.1, 20], "nice": false}, "axis": {"orient": "bottom", "values": [0.1, 1, 10], "labels": false, "title": null}}, "x2": {"field": "a2"}, "y": {"field": "y1", "type": "quantitative", "scale": {"domain": [-0.51, 0.51], "nice": false, "zero": false}, "axis": {"orient": "left", "values": [-0.4, -0.2, 0, 0.2, 0.4], "format": ".1f", "title": "[X/M]"}}, "y2": {"field": "y2"}}},
 {"transform": [{"filter": "datum.k=='m'"}], "mark": {"type": "line", "strokeWidth": 1, "clip": true}, "encoding": {"x": {"field": "a", "type": "quantitative", "axis": {"orient": "top", "values": [0.1, 1, 10], "labels": false, "title": null}}, "y": {"field": "v", "type": "quantitative", "axis": {"orient": "right", "values": [-0.4, -0.2, 0, 0.2, 0.4], "labels": false, "title": null}}, "color": {"field": "mod", "type": "nominal", "scale": {"domain": ["r", "b", "g"], "range": ["#ff0000", "#0000ff", "#00cc00"]}, "legend": null}, "strokeDash": {"field": "mod", "type": "nominal", "scale": {"domain": ["r", "b", "g"], "range": [[1, 2], [5, 2, 1, 2], [5, 3]]}, "legend": null}}},
 {"transform": [{"filter": "datum.k=='p'"}], "mark": {"type": "rule", "color": "black", "strokeWidth": 1}, "encoding": {"x": {"field": "lo", "type": "quantitative", "axis": {"orient": "bottom", "values": [0.2, 0.3, 0.4, 0.5, 0.6, 0.7, 0.8, 0.9, 2, 3, 4, 5, 6, 7, 8, 9], "labels": false, "title": null, "tickSize": -2.5}}, "x2": {"field": "hi"}, "y": {"field": "v", "type": "quantitative", "axis": {"orient": "left", "values": [-0.45, -0.35, -0.3, -0.25, -0.15, -0.1, -0.05, 0.05, 0.1, 0.15, 0.25, 0.3, 0.35, 0.45], "labels": false, "title": null, "tickSize": -2.5}}}},
 {"transform": [{"filter": "datum.k=='p'"}, {"fold": ["lo", "hi"], "as": ["w", "c"]}], "mark": {"type": "tick", "orient": "vertical", "size": 5, "thickness": 1, "color": "black", "opacity": 1}, "encoding": {"x": {"field": "c", "type": "quantitative", "axis": {"orient": "top", "values": [0.2, 0.3, 0.4, 0.5, 0.6, 0.7, 0.8, 0.9, 2, 3, 4, 5, 6, 7, 8, 9], "labels": false, "title": null, "tickSize": -2.5}}, "y": {"field": "v", "type": "quantitative", "axis": {"orient": "right", "values": [-0.45, -0.35, -0.3, -0.25, -0.15, -0.1, -0.05, 0.05, 0.1, 0.15, 0.25, 0.3, 0.35, 0.45], "labels": false, "title": null, "tickSize": -2.5}}}},
 {"transform": [{"filter": "datum.k=='p'"}], "mark": {"type": "square", "size": 7, "color": "black", "opacity": 1}, "encoding": {"x": {"field": "a", "type": "quantitative", "axis": null}, "y": {"field": "v", "type": "quantitative", "axis": null}}},
 {"transform": [{"filter": "datum.k=='p'"}, {"aggregate": [{"op": "count", "as": "n"}], "groupby": ["e"]}], "mark": {"type": "text", "align": "left", "baseline": "middle", "fontSize": 12, "font": "Liberation Sans", "color": "black"}, "encoding": {"x": {"datum": 0.2, "type": "quantitative", "axis": null}, "y": {"datum": -0.38, "type": "quantitative", "axis": null}, "text": {"field": "e"}}}
]},
{"data": {"name": "mh"}, "transform": [{"filter": "datum.e=='Si'"}], "width": 138, "height": 94, "resolve": {"axis": {"x": "independent", "y": "independent"}}, "layer": [
 {"transform": [{"filter": "datum.k=='s'"}], "mark": {"type": "circle", "size": 18, "color": "black", "opacity": 1, "clip": true}, "encoding": {"x": {"field": "m", "type": "quantitative", "scale": {"domain": [-1.3, 0.6], "nice": false, "zero": false}, "axis": {"orient": "bottom", "values": [-1, -0.5, 0, 0.5], "labels": false, "title": null}}, "y": {"field": "v", "type": "quantitative", "scale": {"domain": [-0.51, 0.51], "nice": false, "zero": false}, "axis": {"orient": "left", "values": [-0.4, -0.2, 0, 0.2, 0.4], "labels": false, "title": null}}}},
 {"transform": [{"filter": "datum.k=='m' && datum.mod=='r'"}], "mark": {"type": "line", "strokeWidth": 1, "clip": true}, "encoding": {"x": {"field": "m", "type": "quantitative", "axis": {"orient": "top", "values": [-1, -0.5, 0, 0.5], "labels": false, "title": null}}, "y": {"field": "v", "type": "quantitative", "axis": {"orient": "right", "values": [-0.4, -0.2, 0, 0.2, 0.4], "labels": false, "title": null}}, "color": {"field": "mod", "type": "nominal", "scale": {"domain": ["r", "b", "g"], "range": ["#ff0000", "#0000ff", "#00cc00"]}, "legend": null}, "strokeDash": {"field": "mod", "type": "nominal", "scale": {"domain": ["r", "b", "g"], "range": [[1, 2], [5, 2, 1, 2], [5, 3]]}, "legend": null}}},
 {"transform": [{"filter": "datum.k=='m' && datum.mod=='b'"}], "mark": {"type": "line", "strokeWidth": 1, "clip": true}, "encoding": {"x": {"field": "m", "type": "quantitative", "axis": {"orient": "bottom", "values": [-1.2, -1.1, -0.9, -0.8, -0.7, -0.6, -0.4, -0.3, -0.2, -0.1, 0.1, 0.2, 0.3, 0.4], "labels": false, "title": null, "tickSize": -2.5}}, "y": {"field": "v", "type": "quantitative", "axis": {"orient": "left", "values": [-0.45, -0.35, -0.3, -0.25, -0.15, -0.1, -0.05, 0.05, 0.1, 0.15, 0.25, 0.3, 0.35, 0.45], "labels": false, "title": null, "tickSize": -2.5}}, "color": {"field": "mod", "type": "nominal", "scale": {"domain": ["r", "b", "g"], "range": ["#ff0000", "#0000ff", "#00cc00"]}, "legend": null}, "strokeDash": {"field": "mod", "type": "nominal", "scale": {"domain": ["r", "b", "g"], "range": [[1, 2], [5, 2, 1, 2], [5, 3]]}, "legend": null}}},
 {"transform": [{"filter": "datum.k=='m' && datum.mod=='g'"}], "mark": {"type": "line", "strokeWidth": 1, "clip": true}, "encoding": {"x": {"field": "m", "type": "quantitative", "axis": {"orient": "top", "values": [-1.2, -1.1, -0.9, -0.8, -0.7, -0.6, -0.4, -0.3, -0.2, -0.1, 0.1, 0.2, 0.3, 0.4], "labels": false, "title": null, "tickSize": -2.5}}, "y": {"field": "v", "type": "quantitative", "axis": {"orient": "right", "values": [-0.45, -0.35, -0.3, -0.25, -0.15, -0.1, -0.05, 0.05, 0.1, 0.15, 0.25, 0.3, 0.35, 0.45], "labels": false, "title": null, "tickSize": -2.5}}, "color": {"field": "mod", "type": "nominal", "scale": {"domain": ["r", "b", "g"], "range": ["#ff0000", "#0000ff", "#00cc00"]}, "legend": null}, "strokeDash": {"field": "mod", "type": "nominal", "scale": {"domain": ["r", "b", "g"], "range": [[1, 2], [5, 2, 1, 2], [5, 3]]}, "legend": null}}}
]},
{"data": {"name": "age"}, "transform": [{"filter": "datum.e=='S'"}], "width": 138, "height": 94, "resolve": {"axis": {"x": "independent", "y": "independent"}}, "layer": [
 {"transform": [{"filter": "datum.k=='b'"}], "mark": {"type": "rect", "color": "#9ccff5", "clip": true}, "encoding": {"x": {"field": "a1", "type": "quantitative", "scale": {"type": "log", "domain": [0.1, 20], "nice": false}, "axis": {"orient": "bottom", "values": [0.1, 1, 10], "labels": false, "title": null}}, "x2": {"field": "a2"}, "y": {"field": "y1", "type": "quantitative", "scale": {"domain": [-0.51, 0.51], "nice": false, "zero": false}, "axis": {"orient": "left", "values": [-0.4, -0.2, 0, 0.2, 0.4], "labels": false, "title": null}}, "y2": {"field": "y2"}}},
 {"transform": [{"filter": "datum.k=='m'"}], "mark": {"type": "line", "strokeWidth": 1, "clip": true}, "encoding": {"x": {"field": "a", "type": "quantitative", "axis": {"orient": "top", "values": [0.1, 1, 10], "labels": false, "title": null}}, "y": {"field": "v", "type": "quantitative", "axis": {"orient": "right", "values": [-0.4, -0.2, 0, 0.2, 0.4], "labels": false, "title": null}}, "color": {"field": "mod", "type": "nominal", "scale": {"domain": ["r", "b", "g"], "range": ["#ff0000", "#0000ff", "#00cc00"]}, "legend": null}, "strokeDash": {"field": "mod", "type": "nominal", "scale": {"domain": ["r", "b", "g"], "range": [[1, 2], [5, 2, 1, 2], [5, 3]]}, "legend": null}}},
 {"transform": [{"filter": "datum.k=='p'"}], "mark": {"type": "rule", "color": "black", "strokeWidth": 1}, "encoding": {"x": {"field": "lo", "type": "quantitative", "axis": {"orient": "bottom", "values": [0.2, 0.3, 0.4, 0.5, 0.6, 0.7, 0.8, 0.9, 2, 3, 4, 5, 6, 7, 8, 9], "labels": false, "title": null, "tickSize": -2.5}}, "x2": {"field": "hi"}, "y": {"field": "v", "type": "quantitative", "axis": {"orient": "left", "values": [-0.45, -0.35, -0.3, -0.25, -0.15, -0.1, -0.05, 0.05, 0.1, 0.15, 0.25, 0.3, 0.35, 0.45], "labels": false, "title": null, "tickSize": -2.5}}}},
 {"transform": [{"filter": "datum.k=='p'"}, {"fold": ["lo", "hi"], "as": ["w", "c"]}], "mark": {"type": "tick", "orient": "vertical", "size": 5, "thickness": 1, "color": "black", "opacity": 1}, "encoding": {"x": {"field": "c", "type": "quantitative", "axis": {"orient": "top", "values": [0.2, 0.3, 0.4, 0.5, 0.6, 0.7, 0.8, 0.9, 2, 3, 4, 5, 6, 7, 8, 9], "labels": false, "title": null, "tickSize": -2.5}}, "y": {"field": "v", "type": "quantitative", "axis": {"orient": "right", "values": [-0.45, -0.35, -0.3, -0.25, -0.15, -0.1, -0.05, 0.05, 0.1, 0.15, 0.25, 0.3, 0.35, 0.45], "labels": false, "title": null, "tickSize": -2.5}}}},
 {"transform": [{"filter": "datum.k=='p'"}], "mark": {"type": "square", "size": 7, "color": "black", "opacity": 1}, "encoding": {"x": {"field": "a", "type": "quantitative", "axis": null}, "y": {"field": "v", "type": "quantitative", "axis": null}}},
 {"transform": [{"filter": "datum.k=='p'"}, {"aggregate": [{"op": "count", "as": "n"}], "groupby": ["e"]}], "mark": {"type": "text", "align": "left", "baseline": "middle", "fontSize": 12, "font": "Liberation Sans", "color": "black"}, "encoding": {"x": {"datum": 0.2, "type": "quantitative", "axis": null}, "y": {"datum": -0.38, "type": "quantitative", "axis": null}, "text": {"field": "e"}}}
]},
{"data": {"name": "mh"}, "transform": [{"filter": "datum.e=='S'"}], "width": 138, "height": 94, "resolve": {"axis": {"x": "independent", "y": "independent"}}, "layer": [
 {"transform": [{"filter": "datum.k=='s'"}], "mark": {"type": "circle", "size": 18, "color": "black", "opacity": 1, "clip": true}, "encoding": {"x": {"field": "m", "type": "quantitative", "scale": {"domain": [-1.3, 0.6], "nice": false, "zero": false}, "axis": {"orient": "bottom", "values": [-1, -0.5, 0, 0.5], "labels": false, "title": null}}, "y": {"field": "v", "type": "quantitative", "scale": {"domain": [-0.51, 0.51], "nice": false, "zero": false}, "axis": {"orient": "left", "values": [-0.4, -0.2, 0, 0.2, 0.4], "labels": false, "title": null}}}},
 {"transform": [{"filter": "datum.k=='m' && datum.mod=='r'"}], "mark": {"type": "line", "strokeWidth": 1, "clip": true}, "encoding": {"x": {"field": "m", "type": "quantitative", "axis": {"orient": "top", "values": [-1, -0.5, 0, 0.5], "labels": false, "title": null}}, "y": {"field": "v", "type": "quantitative", "axis": {"orient": "right", "values": [-0.4, -0.2, 0, 0.2, 0.4], "labels": false, "title": null}}, "color": {"field": "mod", "type": "nominal", "scale": {"domain": ["r", "b", "g"], "range": ["#ff0000", "#0000ff", "#00cc00"]}, "legend": null}, "strokeDash": {"field": "mod", "type": "nominal", "scale": {"domain": ["r", "b", "g"], "range": [[1, 2], [5, 2, 1, 2], [5, 3]]}, "legend": null}}},
 {"transform": [{"filter": "datum.k=='m' && datum.mod=='b'"}], "mark": {"type": "line", "strokeWidth": 1, "clip": true}, "encoding": {"x": {"field": "m", "type": "quantitative", "axis": {"orient": "bottom", "values": [-1.2, -1.1, -0.9, -0.8, -0.7, -0.6, -0.4, -0.3, -0.2, -0.1, 0.1, 0.2, 0.3, 0.4], "labels": false, "title": null, "tickSize": -2.5}}, "y": {"field": "v", "type": "quantitative", "axis": {"orient": "left", "values": [-0.45, -0.35, -0.3, -0.25, -0.15, -0.1, -0.05, 0.05, 0.1, 0.15, 0.25, 0.3, 0.35, 0.45], "labels": false, "title": null, "tickSize": -2.5}}, "color": {"field": "mod", "type": "nominal", "scale": {"domain": ["r", "b", "g"], "range": ["#ff0000", "#0000ff", "#00cc00"]}, "legend": null}, "strokeDash": {"field": "mod", "type": "nominal", "scale": {"domain": ["r", "b", "g"], "range": [[1, 2], [5, 2, 1, 2], [5, 3]]}, "legend": null}}},
 {"transform": [{"filter": "datum.k=='m' && datum.mod=='g'"}], "mark": {"type": "line", "strokeWidth": 1, "clip": true}, "encoding": {"x": {"field": "m", "type": "quantitative", "axis": {"orient": "top", "values": [-1.2, -1.1, -0.9, -0.8, -0.7, -0.6, -0.4, -0.3, -0.2, -0.1, 0.1, 0.2, 0.3, 0.4], "labels": false, "title": null, "tickSize": -2.5}}, "y": {"field": "v", "type": "quantitative", "axis": {"orient": "right", "values": [-0.45, -0.35, -0.3, -0.25, -0.15, -0.1, -0.05, 0.05, 0.1, 0.15, 0.25, 0.3, 0.35, 0.45], "labels": false, "title": null, "tickSize": -2.5}}, "color": {"field": "mod", "type": "nominal", "scale": {"domain": ["r", "b", "g"], "range": ["#ff0000", "#0000ff", "#00cc00"]}, "legend": null}, "strokeDash": {"field": "mod", "type": "nominal", "scale": {"domain": ["r", "b", "g"], "range": [[1, 2], [5, 2, 1, 2], [5, 3]]}, "legend": null}}}
]},
{"data": {"name": "age"}, "transform": [{"filter": "datum.e=='Ca'"}], "width": 138, "height": 94, "resolve": {"axis": {"x": "independent", "y": "independent"}}, "layer": [
 {"transform": [{"filter": "datum.k=='b'"}], "mark": {"type": "rect", "color": "#9ccff5", "clip": true}, "encoding": {"x": {"field": "a1", "type": "quantitative", "scale": {"type": "log", "domain": [0.1, 20], "nice": false}, "axis": {"orient": "bottom", "values": [0.1, 1, 10], "format": ".1f", "title": "Age [Gyr]"}}, "x2": {"field": "a2"}, "y": {"field": "y1", "type": "quantitative", "scale": {"domain": [-0.51, 0.51], "nice": false, "zero": false}, "axis": {"orient": "left", "values": [-0.4, -0.2, 0, 0.2, 0.4], "format": ".1f", "title": "[X/M]"}}, "y2": {"field": "y2"}}},
 {"transform": [{"filter": "datum.k=='m'"}], "mark": {"type": "line", "strokeWidth": 1, "clip": true}, "encoding": {"x": {"field": "a", "type": "quantitative", "axis": {"orient": "top", "values": [0.1, 1, 10], "labels": false, "title": null}}, "y": {"field": "v", "type": "quantitative", "axis": {"orient": "right", "values": [-0.4, -0.2, 0, 0.2, 0.4], "labels": false, "title": null}}, "color": {"field": "mod", "type": "nominal", "scale": {"domain": ["r", "b", "g"], "range": ["#ff0000", "#0000ff", "#00cc00"]}, "legend": null}, "strokeDash": {"field": "mod", "type": "nominal", "scale": {"domain": ["r", "b", "g"], "range": [[1, 2], [5, 2, 1, 2], [5, 3]]}, "legend": null}}},
 {"transform": [{"filter": "datum.k=='p'"}], "mark": {"type": "rule", "color": "black", "strokeWidth": 1}, "encoding": {"x": {"field": "lo", "type": "quantitative", "axis": {"orient": "bottom", "values": [0.2, 0.3, 0.4, 0.5, 0.6, 0.7, 0.8, 0.9, 2, 3, 4, 5, 6, 7, 8, 9], "labels": false, "title": null, "tickSize": -2.5}}, "x2": {"field": "hi"}, "y": {"field": "v", "type": "quantitative", "axis": {"orient": "left", "values": [-0.45, -0.35, -0.3, -0.25, -0.15, -0.1, -0.05, 0.05, 0.1, 0.15, 0.25, 0.3, 0.35, 0.45], "labels": false, "title": null, "tickSize": -2.5}}}},
 {"transform": [{"filter": "datum.k=='p'"}, {"fold": ["lo", "hi"], "as": ["w", "c"]}], "mark": {"type": "tick", "orient": "vertical", "size": 5, "thickness": 1, "color": "black", "opacity": 1}, "encoding": {"x": {"field": "c", "type": "quantitative", "axis": {"orient": "top", "values": [0.2, 0.3, 0.4, 0.5, 0.6, 0.7, 0.8, 0.9, 2, 3, 4, 5, 6, 7, 8, 9], "labels": false, "title": null, "tickSize": -2.5}}, "y": {"field": "v", "type": "quantitative", "axis": {"orient": "right", "values": [-0.45, -0.35, -0.3, -0.25, -0.15, -0.1, -0.05, 0.05, 0.1, 0.15, 0.25, 0.3, 0.35, 0.45], "labels": false, "title": null, "tickSize": -2.5}}}},
 {"transform": [{"filter": "datum.k=='p'"}], "mark": {"type": "square", "size": 7, "color": "black", "opacity": 1}, "encoding": {"x": {"field": "a", "type": "quantitative", "axis": null}, "y": {"field": "v", "type": "quantitative", "axis": null}}},
 {"transform": [{"filter": "datum.k=='p'"}, {"aggregate": [{"op": "count", "as": "n"}], "groupby": ["e"]}], "mark": {"type": "text", "align": "left", "baseline": "middle", "fontSize": 12, "font": "Liberation Sans", "color": "black"}, "encoding": {"x": {"datum": 0.2, "type": "quantitative", "axis": null}, "y": {"datum": -0.38, "type": "quantitative", "axis": null}, "text": {"field": "e"}}}
]},
{"data": {"name": "mh"}, "transform": [{"filter": "datum.e=='Ca'"}], "width": 138, "height": 94, "resolve": {"axis": {"x": "independent", "y": "independent"}}, "layer": [
 {"transform": [{"filter": "datum.k=='s'"}], "mark": {"type": "circle", "size": 18, "color": "black", "opacity": 1, "clip": true}, "encoding": {"x": {"field": "m", "type": "quantitative", "scale": {"domain": [-1.3, 0.6], "nice": false, "zero": false}, "axis": {"orient": "bottom", "values": [-1, -0.5, 0, 0.5], "format": ".1f", "title": "[M/H]"}}, "y": {"field": "v", "type": "quantitative", "scale": {"domain": [-0.51, 0.51], "nice": false, "zero": false}, "axis": {"orient": "left", "values": [-0.4, -0.2, 0, 0.2, 0.4], "labels": false, "title": null}}}},
 {"transform": [{"filter": "datum.k=='m' && datum.mod=='r'"}], "mark": {"type": "line", "strokeWidth": 1, "clip": true}, "encoding": {"x": {"field": "m", "type": "quantitative", "axis": {"orient": "top", "values": [-1, -0.5, 0, 0.5], "labels": false, "title": null}}, "y": {"field": "v", "type": "quantitative", "axis": {"orient": "right", "values": [-0.4, -0.2, 0, 0.2, 0.4], "labels": false, "title": null}}, "color": {"field": "mod", "type": "nominal", "scale": {"domain": ["r", "b", "g"], "range": ["#ff0000", "#0000ff", "#00cc00"]}, "legend": null}, "strokeDash": {"field": "mod", "type": "nominal", "scale": {"domain": ["r", "b", "g"], "range": [[1, 2], [5, 2, 1, 2], [5, 3]]}, "legend": null}}},
 {"transform": [{"filter": "datum.k=='m' && datum.mod=='b'"}], "mark": {"type": "line", "strokeWidth": 1, "clip": true}, "encoding": {"x": {"field": "m", "type": "quantitative", "axis": {"orient": "bottom", "values": [-1.2, -1.1, -0.9, -0.8, -0.7, -0.6, -0.4, -0.3, -0.2, -0.1, 0.1, 0.2, 0.3, 0.4], "labels": false, "title": null, "tickSize": -2.5}}, "y": {"field": "v", "type": "quantitative", "axis": {"orient": "left", "values": [-0.45, -0.35, -0.3, -0.25, -0.15, -0.1, -0.05, 0.05, 0.1, 0.15, 0.25, 0.3, 0.35, 0.45], "labels": false, "title": null, "tickSize": -2.5}}, "color": {"field": "mod", "type": "nominal", "scale": {"domain": ["r", "b", "g"], "range": ["#ff0000", "#0000ff", "#00cc00"]}, "legend": null}, "strokeDash": {"field": "mod", "type": "nominal", "scale": {"domain": ["r", "b", "g"], "range": [[1, 2], [5, 2, 1, 2], [5, 3]]}, "legend": null}}},
 {"transform": [{"filter": "datum.k=='m' && datum.mod=='g'"}], "mark": {"type": "line", "strokeWidth": 1, "clip": true}, "encoding": {"x": {"field": "m", "type": "quantitative", "axis": {"orient": "top", "values": [-1.2, -1.1, -0.9, -0.8, -0.7, -0.6, -0.4, -0.3, -0.2, -0.1, 0.1, 0.2, 0.3, 0.4], "labels": false, "title": null, "tickSize": -2.5}}, "y": {"field": "v", "type": "quantitative", "axis": {"orient": "right", "values": [-0.45, -0.35, -0.3, -0.25, -0.15, -0.1, -0.05, 0.05, 0.1, 0.15, 0.25, 0.3, 0.35, 0.45], "labels": false, "title": null, "tickSize": -2.5}}, "color": {"field": "mod", "type": "nominal", "scale": {"domain": ["r", "b", "g"], "range": ["#ff0000", "#0000ff", "#00cc00"]}, "legend": null}, "strokeDash": {"field": "mod", "type": "nominal", "scale": {"domain": ["r", "b", "g"], "range": [[1, 2], [5, 2, 1, 2], [5, 3]]}, "legend": null}}}
]},
{"data": {"name": "age"}, "transform": [{"filter": "datum.e=='Ti'"}], "width": 138, "height": 94, "resolve": {"axis": {"x": "independent", "y": "independent"}}, "layer": [
 {"transform": [{"filter": "datum.k=='b'"}], "mark": {"type": "rect", "color": "#9ccff5", "clip": true}, "encoding": {"x": {"field": "a1", "type": "quantitative", "scale": {"type": "log", "domain": [0.1, 20], "nice": false}, "axis": {"orient": "bottom", "values": [1, 10], "format": ".1f", "title": "Age [Gyr]"}}, "x2": {"field": "a2"}, "y": {"field": "y1", "type": "quantitative", "scale": {"domain": [-0.51, 0.51], "nice": false, "zero": false}, "axis": {"orient": "left", "values": [-0.4, -0.2, 0, 0.2, 0.4], "labels": false, "title": null}}, "y2": {"field": "y2"}}},
 {"transform": [{"filter": "datum.k=='m'"}], "mark": {"type": "line", "strokeWidth": 1, "clip": true}, "encoding": {"x": {"field": "a", "type": "quantitative", "axis": {"orient": "top", "values": [0.1, 1, 10], "labels": false, "title": null}}, "y": {"field": "v", "type": "quantitative", "axis": {"orient": "right", "values": [-0.4, -0.2, 0, 0.2, 0.4], "labels": false, "title": null}}, "color": {"field": "mod", "type": "nominal", "scale": {"domain": ["r", "b", "g"], "range": ["#ff0000", "#0000ff", "#00cc00"]}, "legend": null}, "strokeDash": {"field": "mod", "type": "nominal", "scale": {"domain": ["r", "b", "g"], "range": [[1, 2], [5, 2, 1, 2], [5, 3]]}, "legend": null}}},
 {"transform": [{"filter": "datum.k=='p'"}], "mark": {"type": "rule", "color": "black", "strokeWidth": 1}, "encoding": {"x": {"field": "lo", "type": "quantitative", "axis": {"orient": "bottom", "values": [0.2, 0.3, 0.4, 0.5, 0.6, 0.7, 0.8, 0.9, 2, 3, 4, 5, 6, 7, 8, 9], "labels": false, "title": null, "tickSize": -2.5}}, "x2": {"field": "hi"}, "y": {"field": "v", "type": "quantitative", "axis": {"orient": "left", "values": [-0.45, -0.35, -0.3, -0.25, -0.15, -0.1, -0.05, 0.05, 0.1, 0.15, 0.25, 0.3, 0.35, 0.45], "labels": false, "title": null, "tickSize": -2.5}}}},
 {"transform": [{"filter": "datum.k=='p'"}, {"fold": ["lo", "hi"], "as": ["w", "c"]}], "mark": {"type": "tick", "orient": "vertical", "size": 5, "thickness": 1, "color": "black", "opacity": 1}, "encoding": {"x": {"field": "c", "type": "quantitative", "axis": {"orient": "top", "values": [0.2, 0.3, 0.4, 0.5, 0.6, 0.7, 0.8, 0.9, 2, 3, 4, 5, 6, 7, 8, 9], "labels": false, "title": null, "tickSize": -2.5}}, "y": {"field": "v", "type": "quantitative", "axis": {"orient": "right", "values": [-0.45, -0.35, -0.3, -0.25, -0.15, -0.1, -0.05, 0.05, 0.1, 0.15, 0.25, 0.3, 0.35, 0.45], "labels": false, "title": null, "tickSize": -2.5}}}},
 {"transform": [{"filter": "datum.k=='p'"}], "mark": {"type": "square", "size": 7, "color": "black", "opacity": 1}, "encoding": {"x": {"field": "a", "type": "quantitative", "axis": null}, "y": {"field": "v", "type": "quantitative", "axis": null}}},
 {"transform": [{"filter": "datum.k=='p'"}, {"aggregate": [{"op": "count", "as": "n"}], "groupby": ["e"]}], "mark": {"type": "text", "align": "left", "baseline": "middle", "fontSize": 12, "font": "Liberation Sans", "color": "black"}, "encoding": {"x": {"datum": 0.2, "type": "quantitative", "axis": null}, "y": {"datum": -0.38, "type": "quantitative", "axis": null}, "text": {"field": "e"}}}
]},
{"data": {"name": "mh"}, "transform": [{"filter": "datum.e=='Ti'"}], "width": 138, "height": 94, "resolve": {"axis": {"x": "independent", "y": "independent"}}, "layer": [
 {"transform": [{"filter": "datum.k=='s'"}], "mark": {"type": "circle", "size": 18, "color": "black", "opacity": 1, "clip": true}, "encoding": {"x": {"field": "m", "type": "quantitative", "scale": {"domain": [-1.3, 0.6], "nice": false, "zero": false}, "axis": {"orient": "bottom", "values": [-1, -0.5, 0, 0.5], "format": ".1f", "title": "[M/H]"}}, "y": {"field": "v", "type": "quantitative", "scale": {"domain": [-0.51, 0.51], "nice": false, "zero": false}, "axis": {"orient": "left", "values": [-0.4, -0.2, 0, 0.2, 0.4], "labels": false, "title": null}}}},
 {"transform": [{"filter": "datum.k=='m' && datum.mod=='r'"}], "mark": {"type": "line", "strokeWidth": 1, "clip": true}, "encoding": {"x": {"field": "m", "type": "quantitative", "axis": {"orient": "top", "values": [-1, -0.5, 0, 0.5], "labels": false, "title": null}}, "y": {"field": "v", "type": "quantitative", "axis": {"orient": "right", "values": [-0.4, -0.2, 0, 0.2, 0.4], "labels": false, "title": null}}, "color": {"field": "mod", "type": "nominal", "scale": {"domain": ["r", "b", "g"], "range": ["#ff0000", "#0000ff", "#00cc00"]}, "legend": null}, "strokeDash": {"field": "mod", "type": "nominal", "scale": {"domain": ["r", "b", "g"], "range": [[1, 2], [5, 2, 1, 2], [5, 3]]}, "legend": null}}},
 {"transform": [{"filter": "datum.k=='m' && datum.mod=='b'"}], "mark": {"type": "line", "strokeWidth": 1, "clip": true}, "encoding": {"x": {"field": "m", "type": "quantitative", "axis": {"orient": "bottom", "values": [-1.2, -1.1, -0.9, -0.8, -0.7, -0.6, -0.4, -0.3, -0.2, -0.1, 0.1, 0.2, 0.3, 0.4], "labels": false, "title": null, "tickSize": -2.5}}, "y": {"field": "v", "type": "quantitative", "axis": {"orient": "left", "values": [-0.45, -0.35, -0.3, -0.25, -0.15, -0.1, -0.05, 0.05, 0.1, 0.15, 0.25, 0.3, 0.35, 0.45], "labels": false, "title": null, "tickSize": -2.5}}, "color": {"field": "mod", "type": "nominal", "scale": {"domain": ["r", "b", "g"], "range": ["#ff0000", "#0000ff", "#00cc00"]}, "legend": null}, "strokeDash": {"field": "mod", "type": "nominal", "scale": {"domain": ["r", "b", "g"], "range": [[1, 2], [5, 2, 1, 2], [5, 3]]}, "legend": null}}},
 {"transform": [{"filter": "datum.k=='m' && datum.mod=='g'"}], "mark": {"type": "line", "strokeWidth": 1, "clip": true}, "encoding": {"x": {"field": "m", "type": "quantitative", "axis": {"orient": "top", "values": [-1.2, -1.1, -0.9, -0.8, -0.7, -0.6, -0.4, -0.3, -0.2, -0.1, 0.1, 0.2, 0.3, 0.4], "labels": false, "title": null, "tickSize": -2.5}}, "y": {"field": "v", "type": "quantitative", "axis": {"orient": "right", "values": [-0.45, -0.35, -0.3, -0.25, -0.15, -0.1, -0.05, 0.05, 0.1, 0.15, 0.25, 0.3, 0.35, 0.45], "labels": false, "title": null, "tickSize": -2.5}}, "color": {"field": "mod", "type": "nominal", "scale": {"domain": ["r", "b", "g"], "range": ["#ff0000", "#0000ff", "#00cc00"]}, "legend": null}, "strokeDash": {"field": "mod", "type": "nominal", "scale": {"domain": ["r", "b", "g"], "range": [[1, 2], [5, 2, 1, 2], [5, 3]]}, "legend": null}}}
]}
]
}
